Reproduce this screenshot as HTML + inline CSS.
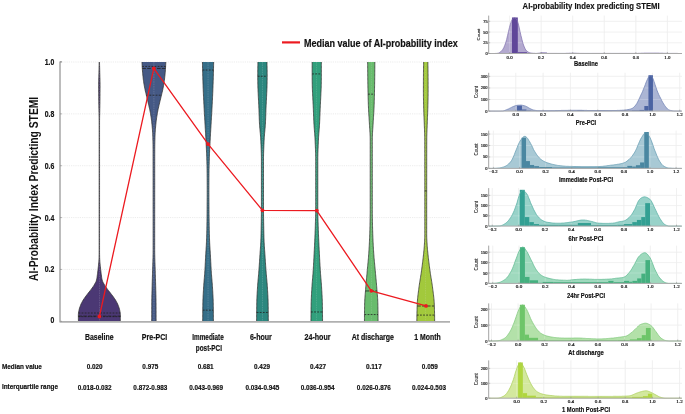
<!DOCTYPE html>
<html><head><meta charset="utf-8"><style>
html,body{margin:0;padding:0;background:#fff;}
svg{display:block;will-change:transform;}
</style></head><body>
<svg width="685" height="414" viewBox="0 0 685 414">
<rect width="685" height="414" fill="#fff"/>
<line x1="60" y1="269.44" x2="450" y2="269.44" stroke="#e4e4e4" stroke-width="0.7" stroke-dasharray="1.2,1.0"/>
<line x1="60" y1="217.58" x2="450" y2="217.58" stroke="#e4e4e4" stroke-width="0.7" stroke-dasharray="1.2,1.0"/>
<line x1="60" y1="165.72" x2="450" y2="165.72" stroke="#e4e4e4" stroke-width="0.7" stroke-dasharray="1.2,1.0"/>
<line x1="60" y1="113.86" x2="450" y2="113.86" stroke="#e4e4e4" stroke-width="0.7" stroke-dasharray="1.2,1.0"/>
<line x1="60" y1="62.00" x2="450" y2="62.00" stroke="#e4e4e4" stroke-width="0.7" stroke-dasharray="1.2,1.0"/>
<defs><clipPath id="pc"><rect x="60" y="62" width="390" height="259.5"/></clipPath></defs>
<g clip-path="url(#pc)">
<path d="M99.50,59.00 L99.50,60.33 L99.50,61.66 L99.53,62.99 L99.56,64.33 L99.59,65.66 L99.63,66.99 L99.66,68.32 L99.69,69.65 L99.73,70.98 L99.76,72.32 L99.79,73.65 L99.83,74.98 L99.87,76.31 L99.91,77.64 L99.95,78.97 L99.99,80.31 L100.02,81.64 L100.04,82.97 L100.05,84.30 L100.05,85.63 L100.05,86.96 L100.04,88.30 L100.04,89.63 L100.03,90.96 L100.02,92.29 L100.01,93.62 L100.00,94.95 L99.98,96.29 L99.97,97.62 L99.96,98.95 L99.95,100.28 L99.93,101.61 L99.91,102.94 L99.89,104.28 L99.86,105.61 L99.84,106.94 L99.81,108.27 L99.78,109.60 L99.75,110.93 L99.72,112.27 L99.69,113.60 L99.66,114.93 L99.63,116.26 L99.61,117.59 L99.59,118.92 L99.57,120.26 L99.56,121.59 L99.55,122.92 L99.55,124.25 L99.55,125.58 L99.55,126.91 L99.55,128.25 L99.55,129.58 L99.55,130.91 L99.55,132.24 L99.55,133.57 L99.55,134.90 L99.55,136.24 L99.55,137.57 L99.55,138.90 L99.55,140.23 L99.55,141.56 L99.55,142.89 L99.55,144.23 L99.55,145.56 L99.55,146.89 L99.55,148.22 L99.55,149.55 L99.55,150.88 L99.55,152.22 L99.55,153.55 L99.55,154.88 L99.55,156.21 L99.55,157.54 L99.55,158.87 L99.55,160.21 L99.55,161.54 L99.55,162.87 L99.55,164.20 L99.55,165.53 L99.55,166.86 L99.55,168.20 L99.55,169.53 L99.55,170.86 L99.55,172.19 L99.55,173.52 L99.55,174.85 L99.55,176.19 L99.55,177.52 L99.55,178.85 L99.55,180.18 L99.55,181.51 L99.55,182.84 L99.55,184.18 L99.55,185.51 L99.55,186.84 L99.55,188.17 L99.55,189.50 L99.55,190.83 L99.55,192.17 L99.55,193.50 L99.55,194.83 L99.55,196.16 L99.55,197.49 L99.55,198.82 L99.55,200.16 L99.55,201.49 L99.55,202.82 L99.55,204.15 L99.55,205.48 L99.55,206.81 L99.55,208.15 L99.55,209.48 L99.55,210.81 L99.55,212.14 L99.55,213.47 L99.55,214.80 L99.55,216.14 L99.55,217.47 L99.55,218.80 L99.55,220.13 L99.55,221.46 L99.55,222.79 L99.55,224.13 L99.55,225.46 L99.55,226.79 L99.55,228.12 L99.55,229.45 L99.55,230.78 L99.55,232.12 L99.55,233.45 L99.55,234.78 L99.55,236.11 L99.55,237.44 L99.55,238.77 L99.55,240.11 L99.55,241.44 L99.55,242.77 L99.55,244.10 L99.55,245.43 L99.55,246.76 L99.55,248.10 L99.55,249.43 L99.55,250.76 L99.56,252.09 L99.57,253.42 L99.59,254.75 L99.61,256.09 L99.64,257.42 L99.68,258.75 L99.75,260.08 L99.85,261.41 L99.96,262.74 L100.08,264.08 L100.22,265.41 L100.36,266.74 L100.51,268.07 L100.66,269.40 L100.81,270.73 L100.97,272.07 L101.14,273.40 L101.31,274.73 L101.49,276.06 L101.67,277.39 L101.88,278.72 L102.16,280.06 L102.62,281.39 L103.26,282.72 L104.00,284.05 L104.77,285.38 L105.64,286.71 L106.59,288.05 L107.59,289.38 L108.58,290.71 L109.63,292.04 L110.70,293.37 L111.73,294.70 L112.72,296.04 L113.70,297.37 L114.63,298.70 L115.49,300.03 L116.26,301.36 L116.99,302.69 L117.64,304.03 L118.19,305.36 L118.69,306.69 L119.14,308.02 L119.52,309.35 L119.80,310.68 L120.04,312.02 L120.24,313.35 L120.35,314.68 L120.35,316.01 L120.34,317.34 L120.33,318.67 L120.30,320.01 L120.25,321.34 L120.25,322.67 L120.25,324.00 L78.45,324.00 L78.45,322.67 L78.45,321.34 L78.40,320.01 L78.37,318.67 L78.36,317.34 L78.35,316.01 L78.35,314.68 L78.46,313.35 L78.66,312.02 L78.90,310.68 L79.18,309.35 L79.56,308.02 L80.01,306.69 L80.51,305.36 L81.06,304.03 L81.71,302.69 L82.44,301.36 L83.21,300.03 L84.07,298.70 L85.00,297.37 L85.98,296.04 L86.97,294.70 L88.00,293.37 L89.07,292.04 L90.12,290.71 L91.11,289.38 L92.11,288.05 L93.06,286.71 L93.93,285.38 L94.70,284.05 L95.44,282.72 L96.08,281.39 L96.54,280.06 L96.82,278.72 L97.03,277.39 L97.21,276.06 L97.39,274.73 L97.56,273.40 L97.73,272.07 L97.89,270.73 L98.04,269.40 L98.19,268.07 L98.34,266.74 L98.48,265.41 L98.62,264.08 L98.74,262.74 L98.85,261.41 L98.95,260.08 L99.02,258.75 L99.06,257.42 L99.09,256.09 L99.11,254.75 L99.13,253.42 L99.14,252.09 L99.15,250.76 L99.15,249.43 L99.15,248.10 L99.15,246.76 L99.15,245.43 L99.15,244.10 L99.15,242.77 L99.15,241.44 L99.15,240.11 L99.15,238.77 L99.15,237.44 L99.15,236.11 L99.15,234.78 L99.15,233.45 L99.15,232.12 L99.15,230.78 L99.15,229.45 L99.15,228.12 L99.15,226.79 L99.15,225.46 L99.15,224.13 L99.15,222.79 L99.15,221.46 L99.15,220.13 L99.15,218.80 L99.15,217.47 L99.15,216.14 L99.15,214.80 L99.15,213.47 L99.15,212.14 L99.15,210.81 L99.15,209.48 L99.15,208.15 L99.15,206.81 L99.15,205.48 L99.15,204.15 L99.15,202.82 L99.15,201.49 L99.15,200.16 L99.15,198.82 L99.15,197.49 L99.15,196.16 L99.15,194.83 L99.15,193.50 L99.15,192.17 L99.15,190.83 L99.15,189.50 L99.15,188.17 L99.15,186.84 L99.15,185.51 L99.15,184.18 L99.15,182.84 L99.15,181.51 L99.15,180.18 L99.15,178.85 L99.15,177.52 L99.15,176.19 L99.15,174.85 L99.15,173.52 L99.15,172.19 L99.15,170.86 L99.15,169.53 L99.15,168.20 L99.15,166.86 L99.15,165.53 L99.15,164.20 L99.15,162.87 L99.15,161.54 L99.15,160.21 L99.15,158.87 L99.15,157.54 L99.15,156.21 L99.15,154.88 L99.15,153.55 L99.15,152.22 L99.15,150.88 L99.15,149.55 L99.15,148.22 L99.15,146.89 L99.15,145.56 L99.15,144.23 L99.15,142.89 L99.15,141.56 L99.15,140.23 L99.15,138.90 L99.15,137.57 L99.15,136.24 L99.15,134.90 L99.15,133.57 L99.15,132.24 L99.15,130.91 L99.15,129.58 L99.15,128.25 L99.15,126.91 L99.15,125.58 L99.15,124.25 L99.15,122.92 L99.14,121.59 L99.13,120.26 L99.11,118.92 L99.09,117.59 L99.07,116.26 L99.04,114.93 L99.01,113.60 L98.98,112.27 L98.95,110.93 L98.92,109.60 L98.89,108.27 L98.86,106.94 L98.84,105.61 L98.81,104.28 L98.79,102.94 L98.77,101.61 L98.75,100.28 L98.74,98.95 L98.73,97.62 L98.72,96.29 L98.70,94.95 L98.69,93.62 L98.68,92.29 L98.67,90.96 L98.66,89.63 L98.66,88.30 L98.65,86.96 L98.65,85.63 L98.65,84.30 L98.66,82.97 L98.68,81.64 L98.71,80.31 L98.75,78.97 L98.79,77.64 L98.83,76.31 L98.87,74.98 L98.91,73.65 L98.94,72.32 L98.97,70.98 L99.01,69.65 L99.04,68.32 L99.07,66.99 L99.11,65.66 L99.14,64.33 L99.17,62.99 L99.20,61.66 L99.20,60.33 L99.20,59.00 Z" fill="#4b3874" stroke="#333" stroke-width="0.75" stroke-linejoin="round"/>
<line x1="99.35" y1="62" x2="99.35" y2="321.3" stroke="#e8e8f0" stroke-width="0.5" stroke-dasharray="1.6,0.8" opacity="0.35"/>
<line x1="78.35" y1="316.63" x2="120.35" y2="316.63" stroke="#222" stroke-width="0.8" stroke-dasharray="1.8,1.3"/>
<line x1="78.35" y1="316.11" x2="120.35" y2="316.11" stroke="#222" stroke-width="0.8" stroke-dasharray="3.6,1.3"/>
<line x1="78.50" y1="313.00" x2="120.20" y2="313.00" stroke="#222" stroke-width="0.8" stroke-dasharray="1.8,1.3"/>
<path d="M165.80,59.00 L165.80,60.33 L165.80,61.66 L165.77,62.99 L165.72,64.33 L165.65,65.66 L165.58,66.99 L165.51,68.32 L165.42,69.65 L165.33,70.98 L165.23,72.32 L165.11,73.65 L164.98,74.98 L164.84,76.31 L164.70,77.64 L164.54,78.97 L164.37,80.31 L164.19,81.64 L163.98,82.97 L163.77,84.30 L163.54,85.63 L163.29,86.96 L163.04,88.30 L162.77,89.63 L162.48,90.96 L162.16,92.29 L161.84,93.62 L161.52,94.95 L161.20,96.29 L160.88,97.62 L160.56,98.95 L160.23,100.28 L159.90,101.61 L159.58,102.94 L159.27,104.28 L158.96,105.61 L158.66,106.94 L158.36,108.27 L158.06,109.60 L157.79,110.93 L157.53,112.27 L157.30,113.60 L157.08,114.93 L156.87,116.26 L156.66,117.59 L156.47,118.92 L156.30,120.26 L156.14,121.59 L155.99,122.92 L155.86,124.25 L155.73,125.58 L155.60,126.91 L155.48,128.25 L155.37,129.58 L155.27,130.91 L155.18,132.24 L155.11,133.57 L155.06,134.90 L155.01,136.24 L154.97,137.57 L154.93,138.90 L154.90,140.23 L154.86,141.56 L154.83,142.89 L154.81,144.23 L154.79,145.56 L154.77,146.89 L154.76,148.22 L154.75,149.55 L154.75,150.88 L154.75,152.22 L154.75,153.55 L154.74,154.88 L154.74,156.21 L154.74,157.54 L154.74,158.87 L154.74,160.21 L154.74,161.54 L154.74,162.87 L154.73,164.20 L154.73,165.53 L154.73,166.86 L154.73,168.20 L154.73,169.53 L154.73,170.86 L154.73,172.19 L154.73,173.52 L154.72,174.85 L154.72,176.19 L154.72,177.52 L154.72,178.85 L154.72,180.18 L154.72,181.51 L154.72,182.84 L154.72,184.18 L154.72,185.51 L154.72,186.84 L154.72,188.17 L154.71,189.50 L154.71,190.83 L154.71,192.17 L154.71,193.50 L154.71,194.83 L154.71,196.16 L154.71,197.49 L154.71,198.82 L154.71,200.16 L154.71,201.49 L154.71,202.82 L154.71,204.15 L154.71,205.48 L154.71,206.81 L154.71,208.15 L154.71,209.48 L154.71,210.81 L154.70,212.14 L154.70,213.47 L154.70,214.80 L154.70,216.14 L154.70,217.47 L154.70,218.80 L154.70,220.13 L154.70,221.46 L154.70,222.79 L154.70,224.13 L154.70,225.46 L154.70,226.79 L154.70,228.12 L154.70,229.45 L154.70,230.78 L154.70,232.12 L154.70,233.45 L154.70,234.78 L154.70,236.11 L154.70,237.44 L154.70,238.77 L154.70,240.11 L154.70,241.44 L154.70,242.77 L154.70,244.10 L154.70,245.43 L154.70,246.76 L154.70,248.10 L154.70,249.43 L154.70,250.76 L154.71,252.09 L154.72,253.42 L154.75,254.75 L154.77,256.09 L154.80,257.42 L154.84,258.75 L154.88,260.08 L154.92,261.41 L154.96,262.74 L155.01,264.08 L155.05,265.41 L155.09,266.74 L155.14,268.07 L155.18,269.40 L155.22,270.73 L155.25,272.07 L155.29,273.40 L155.33,274.73 L155.37,276.06 L155.41,277.39 L155.45,278.72 L155.50,280.06 L155.54,281.39 L155.58,282.72 L155.62,284.05 L155.65,285.38 L155.69,286.71 L155.72,288.05 L155.76,289.38 L155.79,290.71 L155.83,292.04 L155.86,293.37 L155.90,294.70 L155.93,296.04 L155.96,297.37 L155.99,298.70 L156.01,300.03 L156.03,301.36 L156.04,302.69 L156.05,304.03 L156.06,305.36 L156.06,306.69 L156.07,308.02 L156.07,309.35 L156.08,310.68 L156.08,312.02 L156.09,313.35 L156.09,314.68 L156.09,316.01 L156.10,317.34 L156.10,318.67 L156.10,320.01 L156.10,321.34 L156.10,322.67 L156.10,324.00 L151.70,324.00 L151.70,322.67 L151.70,321.34 L151.70,320.01 L151.70,318.67 L151.70,317.34 L151.71,316.01 L151.71,314.68 L151.71,313.35 L151.72,312.02 L151.72,310.68 L151.73,309.35 L151.73,308.02 L151.74,306.69 L151.74,305.36 L151.75,304.03 L151.76,302.69 L151.77,301.36 L151.79,300.03 L151.81,298.70 L151.84,297.37 L151.87,296.04 L151.90,294.70 L151.94,293.37 L151.97,292.04 L152.01,290.71 L152.04,289.38 L152.08,288.05 L152.11,286.71 L152.15,285.38 L152.18,284.05 L152.22,282.72 L152.26,281.39 L152.30,280.06 L152.35,278.72 L152.39,277.39 L152.43,276.06 L152.47,274.73 L152.51,273.40 L152.55,272.07 L152.58,270.73 L152.62,269.40 L152.66,268.07 L152.71,266.74 L152.75,265.41 L152.79,264.08 L152.84,262.74 L152.88,261.41 L152.92,260.08 L152.96,258.75 L153.00,257.42 L153.03,256.09 L153.05,254.75 L153.08,253.42 L153.09,252.09 L153.10,250.76 L153.10,249.43 L153.10,248.10 L153.10,246.76 L153.10,245.43 L153.10,244.10 L153.10,242.77 L153.10,241.44 L153.10,240.11 L153.10,238.77 L153.10,237.44 L153.10,236.11 L153.10,234.78 L153.10,233.45 L153.10,232.12 L153.10,230.78 L153.10,229.45 L153.10,228.12 L153.10,226.79 L153.10,225.46 L153.10,224.13 L153.10,222.79 L153.10,221.46 L153.10,220.13 L153.10,218.80 L153.10,217.47 L153.10,216.14 L153.10,214.80 L153.10,213.47 L153.10,212.14 L153.09,210.81 L153.09,209.48 L153.09,208.15 L153.09,206.81 L153.09,205.48 L153.09,204.15 L153.09,202.82 L153.09,201.49 L153.09,200.16 L153.09,198.82 L153.09,197.49 L153.09,196.16 L153.09,194.83 L153.09,193.50 L153.09,192.17 L153.09,190.83 L153.09,189.50 L153.08,188.17 L153.08,186.84 L153.08,185.51 L153.08,184.18 L153.08,182.84 L153.08,181.51 L153.08,180.18 L153.08,178.85 L153.08,177.52 L153.08,176.19 L153.08,174.85 L153.07,173.52 L153.07,172.19 L153.07,170.86 L153.07,169.53 L153.07,168.20 L153.07,166.86 L153.07,165.53 L153.07,164.20 L153.06,162.87 L153.06,161.54 L153.06,160.21 L153.06,158.87 L153.06,157.54 L153.06,156.21 L153.06,154.88 L153.05,153.55 L153.05,152.22 L153.05,150.88 L153.05,149.55 L153.04,148.22 L153.03,146.89 L153.01,145.56 L152.99,144.23 L152.97,142.89 L152.94,141.56 L152.90,140.23 L152.87,138.90 L152.83,137.57 L152.79,136.24 L152.74,134.90 L152.69,133.57 L152.62,132.24 L152.53,130.91 L152.43,129.58 L152.32,128.25 L152.20,126.91 L152.07,125.58 L151.94,124.25 L151.81,122.92 L151.66,121.59 L151.50,120.26 L151.33,118.92 L151.14,117.59 L150.93,116.26 L150.72,114.93 L150.50,113.60 L150.27,112.27 L150.01,110.93 L149.74,109.60 L149.44,108.27 L149.14,106.94 L148.84,105.61 L148.53,104.28 L148.22,102.94 L147.90,101.61 L147.57,100.28 L147.24,98.95 L146.92,97.62 L146.60,96.29 L146.28,94.95 L145.96,93.62 L145.64,92.29 L145.32,90.96 L145.03,89.63 L144.76,88.30 L144.51,86.96 L144.26,85.63 L144.03,84.30 L143.82,82.97 L143.61,81.64 L143.43,80.31 L143.26,78.97 L143.10,77.64 L142.96,76.31 L142.82,74.98 L142.69,73.65 L142.57,72.32 L142.47,70.98 L142.38,69.65 L142.29,68.32 L142.22,66.99 L142.15,65.66 L142.08,64.33 L142.03,62.99 L142.00,61.66 L142.00,60.33 L142.00,59.00 Z" fill="#455985" stroke="#333" stroke-width="0.75" stroke-linejoin="round"/>
<line x1="153.90" y1="62" x2="153.90" y2="321.3" stroke="#e8e8f0" stroke-width="0.5" stroke-dasharray="1.6,0.8" opacity="0.35"/>
<line x1="146.34" y1="95.19" x2="161.46" y2="95.19" stroke="#222" stroke-width="0.8" stroke-dasharray="1.8,1.3"/>
<line x1="142.30" y1="68.48" x2="165.50" y2="68.48" stroke="#222" stroke-width="0.8" stroke-dasharray="3.6,1.3"/>
<line x1="142.18" y1="66.41" x2="165.62" y2="66.41" stroke="#222" stroke-width="0.8" stroke-dasharray="1.8,1.3"/>
<path d="M213.65,59.00 L213.65,60.33 L213.65,61.66 L213.63,62.99 L213.61,64.33 L213.59,65.66 L213.56,66.99 L213.53,68.32 L213.50,69.65 L213.47,70.98 L213.44,72.32 L213.40,73.65 L213.37,74.98 L213.33,76.31 L213.30,77.64 L213.25,78.97 L213.21,80.31 L213.17,81.64 L213.12,82.97 L213.07,84.30 L213.03,85.63 L212.98,86.96 L212.93,88.30 L212.88,89.63 L212.82,90.96 L212.77,92.29 L212.71,93.62 L212.65,94.95 L212.59,96.29 L212.53,97.62 L212.47,98.95 L212.40,100.28 L212.34,101.61 L212.27,102.94 L212.20,104.28 L212.13,105.61 L212.06,106.94 L211.99,108.27 L211.92,109.60 L211.85,110.93 L211.77,112.27 L211.70,113.60 L211.62,114.93 L211.54,116.26 L211.46,117.59 L211.38,118.92 L211.30,120.26 L211.23,121.59 L211.15,122.92 L211.07,124.25 L210.99,125.58 L210.92,126.91 L210.84,128.25 L210.76,129.58 L210.68,130.91 L210.60,132.24 L210.53,133.57 L210.45,134.90 L210.38,136.24 L210.30,137.57 L210.23,138.90 L210.16,140.23 L210.09,141.56 L210.02,142.89 L209.95,144.23 L209.88,145.56 L209.81,146.89 L209.74,148.22 L209.68,149.55 L209.61,150.88 L209.55,152.22 L209.50,153.55 L209.44,154.88 L209.39,156.21 L209.35,157.54 L209.31,158.87 L209.27,160.21 L209.22,161.54 L209.19,162.87 L209.15,164.20 L209.11,165.53 L209.08,166.86 L209.06,168.20 L209.03,169.53 L209.01,170.86 L209.00,172.19 L208.99,173.52 L208.97,174.85 L208.96,176.19 L208.95,177.52 L208.94,178.85 L208.93,180.18 L208.93,181.51 L208.92,182.84 L208.91,184.18 L208.91,185.51 L208.90,186.84 L208.90,188.17 L208.90,189.50 L208.90,190.83 L208.90,192.17 L208.90,193.50 L208.91,194.83 L208.91,196.16 L208.92,197.49 L208.93,198.82 L208.93,200.16 L208.94,201.49 L208.95,202.82 L208.96,204.15 L208.97,205.48 L208.98,206.81 L208.99,208.15 L209.00,209.48 L209.01,210.81 L209.02,212.14 L209.03,213.47 L209.04,214.80 L209.05,216.14 L209.07,217.47 L209.08,218.80 L209.10,220.13 L209.12,221.46 L209.14,222.79 L209.16,224.13 L209.18,225.46 L209.20,226.79 L209.22,228.12 L209.25,229.45 L209.27,230.78 L209.31,232.12 L209.34,233.45 L209.38,234.78 L209.42,236.11 L209.47,237.44 L209.51,238.77 L209.56,240.11 L209.61,241.44 L209.67,242.77 L209.73,244.10 L209.80,245.43 L209.88,246.76 L209.96,248.10 L210.05,249.43 L210.14,250.76 L210.22,252.09 L210.31,253.42 L210.38,254.75 L210.46,256.09 L210.53,257.42 L210.60,258.75 L210.66,260.08 L210.73,261.41 L210.79,262.74 L210.86,264.08 L210.93,265.41 L211.00,266.74 L211.07,268.07 L211.14,269.40 L211.22,270.73 L211.31,272.07 L211.40,273.40 L211.50,274.73 L211.61,276.06 L211.72,277.39 L211.83,278.72 L211.94,280.06 L212.06,281.39 L212.16,282.72 L212.27,284.05 L212.36,285.38 L212.45,286.71 L212.53,288.05 L212.61,289.38 L212.69,290.71 L212.77,292.04 L212.84,293.37 L212.92,294.70 L212.98,296.04 L213.05,297.37 L213.11,298.70 L213.16,300.03 L213.20,301.36 L213.23,302.69 L213.25,304.03 L213.27,305.36 L213.29,306.69 L213.31,308.02 L213.32,309.35 L213.34,310.68 L213.35,312.02 L213.36,313.35 L213.37,314.68 L213.38,316.01 L213.39,317.34 L213.40,318.67 L213.40,320.01 L213.40,321.34 L213.40,322.67 L213.40,324.00 L202.70,324.00 L202.70,322.67 L202.70,321.34 L202.70,320.01 L202.70,318.67 L202.71,317.34 L202.72,316.01 L202.73,314.68 L202.74,313.35 L202.75,312.02 L202.76,310.68 L202.78,309.35 L202.79,308.02 L202.81,306.69 L202.83,305.36 L202.85,304.03 L202.87,302.69 L202.90,301.36 L202.94,300.03 L202.99,298.70 L203.05,297.37 L203.12,296.04 L203.18,294.70 L203.26,293.37 L203.33,292.04 L203.41,290.71 L203.49,289.38 L203.57,288.05 L203.65,286.71 L203.74,285.38 L203.83,284.05 L203.94,282.72 L204.04,281.39 L204.16,280.06 L204.27,278.72 L204.38,277.39 L204.49,276.06 L204.60,274.73 L204.70,273.40 L204.79,272.07 L204.88,270.73 L204.96,269.40 L205.03,268.07 L205.10,266.74 L205.17,265.41 L205.24,264.08 L205.31,262.74 L205.37,261.41 L205.44,260.08 L205.50,258.75 L205.57,257.42 L205.64,256.09 L205.72,254.75 L205.79,253.42 L205.88,252.09 L205.96,250.76 L206.05,249.43 L206.14,248.10 L206.22,246.76 L206.30,245.43 L206.37,244.10 L206.43,242.77 L206.49,241.44 L206.54,240.11 L206.59,238.77 L206.63,237.44 L206.68,236.11 L206.72,234.78 L206.76,233.45 L206.79,232.12 L206.83,230.78 L206.85,229.45 L206.88,228.12 L206.90,226.79 L206.92,225.46 L206.94,224.13 L206.96,222.79 L206.98,221.46 L207.00,220.13 L207.02,218.80 L207.03,217.47 L207.05,216.14 L207.06,214.80 L207.07,213.47 L207.08,212.14 L207.09,210.81 L207.10,209.48 L207.11,208.15 L207.12,206.81 L207.13,205.48 L207.14,204.15 L207.15,202.82 L207.16,201.49 L207.17,200.16 L207.17,198.82 L207.18,197.49 L207.19,196.16 L207.19,194.83 L207.20,193.50 L207.20,192.17 L207.20,190.83 L207.20,189.50 L207.20,188.17 L207.20,186.84 L207.19,185.51 L207.19,184.18 L207.18,182.84 L207.17,181.51 L207.17,180.18 L207.16,178.85 L207.15,177.52 L207.14,176.19 L207.13,174.85 L207.11,173.52 L207.10,172.19 L207.09,170.86 L207.07,169.53 L207.04,168.20 L207.02,166.86 L206.99,165.53 L206.95,164.20 L206.91,162.87 L206.88,161.54 L206.83,160.21 L206.79,158.87 L206.75,157.54 L206.71,156.21 L206.66,154.88 L206.60,153.55 L206.55,152.22 L206.49,150.88 L206.42,149.55 L206.36,148.22 L206.29,146.89 L206.22,145.56 L206.15,144.23 L206.08,142.89 L206.01,141.56 L205.94,140.23 L205.87,138.90 L205.80,137.57 L205.72,136.24 L205.65,134.90 L205.57,133.57 L205.50,132.24 L205.42,130.91 L205.34,129.58 L205.26,128.25 L205.18,126.91 L205.11,125.58 L205.03,124.25 L204.95,122.92 L204.87,121.59 L204.80,120.26 L204.72,118.92 L204.64,117.59 L204.56,116.26 L204.48,114.93 L204.40,113.60 L204.33,112.27 L204.25,110.93 L204.18,109.60 L204.11,108.27 L204.04,106.94 L203.97,105.61 L203.90,104.28 L203.83,102.94 L203.76,101.61 L203.70,100.28 L203.63,98.95 L203.57,97.62 L203.51,96.29 L203.45,94.95 L203.39,93.62 L203.33,92.29 L203.28,90.96 L203.22,89.63 L203.17,88.30 L203.12,86.96 L203.07,85.63 L203.03,84.30 L202.98,82.97 L202.93,81.64 L202.89,80.31 L202.85,78.97 L202.80,77.64 L202.77,76.31 L202.73,74.98 L202.70,73.65 L202.66,72.32 L202.63,70.98 L202.60,69.65 L202.57,68.32 L202.54,66.99 L202.51,65.66 L202.49,64.33 L202.47,62.99 L202.45,61.66 L202.45,60.33 L202.45,59.00 Z" fill="#356e88" stroke="#333" stroke-width="0.75" stroke-linejoin="round"/>
<line x1="208.05" y1="62" x2="208.05" y2="321.3" stroke="#e8e8f0" stroke-width="0.5" stroke-dasharray="1.6,0.8" opacity="0.35"/>
<line x1="202.77" y1="310.15" x2="213.33" y2="310.15" stroke="#222" stroke-width="0.8" stroke-dasharray="1.8,1.3"/>
<line x1="206.17" y1="144.72" x2="209.93" y2="144.72" stroke="#222" stroke-width="0.8" stroke-dasharray="3.6,1.3"/>
<line x1="202.61" y1="70.04" x2="213.49" y2="70.04" stroke="#222" stroke-width="0.8" stroke-dasharray="1.8,1.3"/>
<path d="M266.95,59.00 L266.95,60.33 L266.95,61.66 L266.98,62.99 L267.01,64.33 L267.04,65.66 L267.07,66.99 L267.09,68.32 L267.11,69.65 L267.13,70.98 L267.14,72.32 L267.15,73.65 L267.15,74.98 L267.15,76.31 L267.14,77.64 L267.13,78.97 L267.12,80.31 L267.10,81.64 L267.08,82.97 L267.06,84.30 L267.04,85.63 L267.00,86.96 L266.96,88.30 L266.90,89.63 L266.84,90.96 L266.78,92.29 L266.71,93.62 L266.65,94.95 L266.59,96.29 L266.53,97.62 L266.46,98.95 L266.39,100.28 L266.32,101.61 L266.25,102.94 L266.19,104.28 L266.12,105.61 L266.06,106.94 L266.01,108.27 L265.95,109.60 L265.90,110.93 L265.86,112.27 L265.81,113.60 L265.77,114.93 L265.72,116.26 L265.68,117.59 L265.63,118.92 L265.57,120.26 L265.51,121.59 L265.45,122.92 L265.37,124.25 L265.28,125.58 L265.18,126.91 L265.07,128.25 L264.95,129.58 L264.83,130.91 L264.70,132.24 L264.58,133.57 L264.47,134.90 L264.36,136.24 L264.27,137.57 L264.18,138.90 L264.12,140.23 L264.06,141.56 L264.00,142.89 L263.94,144.23 L263.88,145.56 L263.82,146.89 L263.77,148.22 L263.72,149.55 L263.67,150.88 L263.63,152.22 L263.59,153.55 L263.56,154.88 L263.53,156.21 L263.51,157.54 L263.50,158.87 L263.50,160.21 L263.50,161.54 L263.50,162.87 L263.50,164.20 L263.50,165.53 L263.50,166.86 L263.50,168.20 L263.50,169.53 L263.50,170.86 L263.50,172.19 L263.50,173.52 L263.50,174.85 L263.50,176.19 L263.50,177.52 L263.50,178.85 L263.50,180.18 L263.50,181.51 L263.50,182.84 L263.50,184.18 L263.50,185.51 L263.50,186.84 L263.50,188.17 L263.50,189.50 L263.50,190.83 L263.50,192.17 L263.50,193.50 L263.50,194.83 L263.50,196.16 L263.50,197.49 L263.50,198.82 L263.50,200.16 L263.50,201.49 L263.50,202.82 L263.50,204.15 L263.50,205.48 L263.50,206.81 L263.50,208.15 L263.50,209.48 L263.50,210.81 L263.51,212.14 L263.52,213.47 L263.53,214.80 L263.55,216.14 L263.56,217.47 L263.58,218.80 L263.61,220.13 L263.63,221.46 L263.65,222.79 L263.68,224.13 L263.70,225.46 L263.72,226.79 L263.74,228.12 L263.77,229.45 L263.79,230.78 L263.82,232.12 L263.85,233.45 L263.88,234.78 L263.92,236.11 L263.95,237.44 L263.99,238.77 L264.04,240.11 L264.09,241.44 L264.15,242.77 L264.22,244.10 L264.30,245.43 L264.39,246.76 L264.48,248.10 L264.57,249.43 L264.67,250.76 L264.76,252.09 L264.86,253.42 L264.94,254.75 L265.03,256.09 L265.12,257.42 L265.20,258.75 L265.29,260.08 L265.37,261.41 L265.46,262.74 L265.55,264.08 L265.64,265.41 L265.73,266.74 L265.82,268.07 L265.92,269.40 L266.02,270.73 L266.12,272.07 L266.22,273.40 L266.34,274.73 L266.46,276.06 L266.58,277.39 L266.70,278.72 L266.82,280.06 L266.94,281.39 L267.05,282.72 L267.16,284.05 L267.26,285.38 L267.35,286.71 L267.43,288.05 L267.51,289.38 L267.59,290.71 L267.67,292.04 L267.75,293.37 L267.82,294.70 L267.89,296.04 L267.95,297.37 L268.01,298.70 L268.06,300.03 L268.10,301.36 L268.13,302.69 L268.15,304.03 L268.17,305.36 L268.19,306.69 L268.21,308.02 L268.22,309.35 L268.24,310.68 L268.25,312.02 L268.26,313.35 L268.27,314.68 L268.28,316.01 L268.29,317.34 L268.30,318.67 L268.30,320.01 L268.30,321.34 L268.30,322.67 L268.30,324.00 L256.60,324.00 L256.60,322.67 L256.60,321.34 L256.60,320.01 L256.60,318.67 L256.61,317.34 L256.62,316.01 L256.63,314.68 L256.64,313.35 L256.65,312.02 L256.66,310.68 L256.68,309.35 L256.69,308.02 L256.71,306.69 L256.73,305.36 L256.75,304.03 L256.77,302.69 L256.80,301.36 L256.84,300.03 L256.89,298.70 L256.95,297.37 L257.01,296.04 L257.08,294.70 L257.15,293.37 L257.23,292.04 L257.31,290.71 L257.39,289.38 L257.47,288.05 L257.55,286.71 L257.64,285.38 L257.74,284.05 L257.85,282.72 L257.96,281.39 L258.08,280.06 L258.20,278.72 L258.32,277.39 L258.44,276.06 L258.56,274.73 L258.68,273.40 L258.78,272.07 L258.88,270.73 L258.98,269.40 L259.08,268.07 L259.17,266.74 L259.26,265.41 L259.35,264.08 L259.44,262.74 L259.53,261.41 L259.61,260.08 L259.70,258.75 L259.78,257.42 L259.87,256.09 L259.96,254.75 L260.04,253.42 L260.14,252.09 L260.23,250.76 L260.33,249.43 L260.42,248.10 L260.51,246.76 L260.60,245.43 L260.68,244.10 L260.75,242.77 L260.81,241.44 L260.86,240.11 L260.91,238.77 L260.95,237.44 L260.98,236.11 L261.02,234.78 L261.05,233.45 L261.08,232.12 L261.11,230.78 L261.13,229.45 L261.16,228.12 L261.18,226.79 L261.20,225.46 L261.22,224.13 L261.25,222.79 L261.27,221.46 L261.29,220.13 L261.32,218.80 L261.34,217.47 L261.35,216.14 L261.37,214.80 L261.38,213.47 L261.39,212.14 L261.40,210.81 L261.40,209.48 L261.40,208.15 L261.40,206.81 L261.40,205.48 L261.40,204.15 L261.40,202.82 L261.40,201.49 L261.40,200.16 L261.40,198.82 L261.40,197.49 L261.40,196.16 L261.40,194.83 L261.40,193.50 L261.40,192.17 L261.40,190.83 L261.40,189.50 L261.40,188.17 L261.40,186.84 L261.40,185.51 L261.40,184.18 L261.40,182.84 L261.40,181.51 L261.40,180.18 L261.40,178.85 L261.40,177.52 L261.40,176.19 L261.40,174.85 L261.40,173.52 L261.40,172.19 L261.40,170.86 L261.40,169.53 L261.40,168.20 L261.40,166.86 L261.40,165.53 L261.40,164.20 L261.40,162.87 L261.40,161.54 L261.40,160.21 L261.40,158.87 L261.39,157.54 L261.37,156.21 L261.34,154.88 L261.31,153.55 L261.27,152.22 L261.23,150.88 L261.18,149.55 L261.13,148.22 L261.08,146.89 L261.02,145.56 L260.96,144.23 L260.90,142.89 L260.84,141.56 L260.78,140.23 L260.72,138.90 L260.63,137.57 L260.54,136.24 L260.43,134.90 L260.32,133.57 L260.20,132.24 L260.07,130.91 L259.95,129.58 L259.83,128.25 L259.72,126.91 L259.62,125.58 L259.53,124.25 L259.45,122.92 L259.39,121.59 L259.33,120.26 L259.27,118.92 L259.22,117.59 L259.18,116.26 L259.13,114.93 L259.09,113.60 L259.04,112.27 L259.00,110.93 L258.95,109.60 L258.89,108.27 L258.84,106.94 L258.78,105.61 L258.71,104.28 L258.65,102.94 L258.58,101.61 L258.51,100.28 L258.44,98.95 L258.37,97.62 L258.31,96.29 L258.25,94.95 L258.19,93.62 L258.12,92.29 L258.06,90.96 L258.00,89.63 L257.94,88.30 L257.90,86.96 L257.86,85.63 L257.84,84.30 L257.82,82.97 L257.80,81.64 L257.78,80.31 L257.77,78.97 L257.76,77.64 L257.75,76.31 L257.75,74.98 L257.75,73.65 L257.76,72.32 L257.77,70.98 L257.79,69.65 L257.81,68.32 L257.83,66.99 L257.86,65.66 L257.89,64.33 L257.92,62.99 L257.95,61.66 L257.95,60.33 L257.95,59.00 Z" fill="#2c877f" stroke="#333" stroke-width="0.75" stroke-linejoin="round"/>
<line x1="262.45" y1="62" x2="262.45" y2="321.3" stroke="#e8e8f0" stroke-width="0.5" stroke-dasharray="1.6,0.8" opacity="0.35"/>
<line x1="256.64" y1="312.48" x2="268.26" y2="312.48" stroke="#222" stroke-width="0.8" stroke-dasharray="1.8,1.3"/>
<line x1="261.40" y1="210.06" x2="263.50" y2="210.06" stroke="#222" stroke-width="0.8" stroke-dasharray="3.6,1.3"/>
<line x1="257.75" y1="76.26" x2="267.15" y2="76.26" stroke="#222" stroke-width="0.8" stroke-dasharray="1.8,1.3"/>
<path d="M321.35,59.00 L321.35,60.33 L321.35,61.66 L321.35,62.99 L321.35,64.33 L321.35,65.66 L321.35,66.99 L321.35,68.32 L321.35,69.65 L321.35,70.98 L321.35,72.32 L321.35,73.65 L321.35,74.98 L321.35,76.31 L321.34,77.64 L321.33,78.97 L321.32,80.31 L321.30,81.64 L321.28,82.97 L321.26,84.30 L321.24,85.63 L321.20,86.96 L321.16,88.30 L321.10,89.63 L321.04,90.96 L320.98,92.29 L320.91,93.62 L320.85,94.95 L320.79,96.29 L320.73,97.62 L320.66,98.95 L320.59,100.28 L320.53,101.61 L320.46,102.94 L320.39,104.28 L320.32,105.61 L320.26,106.94 L320.20,108.27 L320.15,109.60 L320.09,110.93 L320.04,112.27 L319.99,113.60 L319.94,114.93 L319.89,116.26 L319.84,117.59 L319.78,118.92 L319.73,120.26 L319.66,121.59 L319.60,122.92 L319.52,124.25 L319.44,125.58 L319.35,126.91 L319.25,128.25 L319.15,129.58 L319.04,130.91 L318.94,132.24 L318.83,133.57 L318.73,134.90 L318.64,136.24 L318.56,137.57 L318.48,138.90 L318.42,140.23 L318.36,141.56 L318.30,142.89 L318.24,144.23 L318.18,145.56 L318.13,146.89 L318.07,148.22 L318.02,149.55 L317.97,150.88 L317.93,152.22 L317.89,153.55 L317.86,154.88 L317.83,156.21 L317.81,157.54 L317.80,158.87 L317.80,160.21 L317.80,161.54 L317.80,162.87 L317.80,164.20 L317.80,165.53 L317.80,166.86 L317.80,168.20 L317.80,169.53 L317.80,170.86 L317.80,172.19 L317.80,173.52 L317.80,174.85 L317.80,176.19 L317.80,177.52 L317.80,178.85 L317.80,180.18 L317.80,181.51 L317.80,182.84 L317.80,184.18 L317.80,185.51 L317.80,186.84 L317.80,188.17 L317.80,189.50 L317.80,190.83 L317.80,192.17 L317.80,193.50 L317.80,194.83 L317.80,196.16 L317.80,197.49 L317.80,198.82 L317.80,200.16 L317.80,201.49 L317.80,202.82 L317.80,204.15 L317.80,205.48 L317.80,206.81 L317.80,208.15 L317.80,209.48 L317.80,210.81 L317.81,212.14 L317.83,213.47 L317.85,214.80 L317.89,216.14 L317.92,217.47 L317.96,218.80 L318.00,220.13 L318.04,221.46 L318.08,222.79 L318.13,224.13 L318.17,225.46 L318.21,226.79 L318.25,228.12 L318.30,229.45 L318.35,230.78 L318.40,232.12 L318.45,233.45 L318.50,234.78 L318.56,236.11 L318.61,237.44 L318.67,238.77 L318.73,240.11 L318.79,241.44 L318.85,242.77 L318.91,244.10 L318.97,245.43 L319.03,246.76 L319.10,248.10 L319.17,249.43 L319.23,250.76 L319.30,252.09 L319.37,253.42 L319.44,254.75 L319.51,256.09 L319.57,257.42 L319.64,258.75 L319.71,260.08 L319.78,261.41 L319.85,262.74 L319.93,264.08 L320.00,265.41 L320.08,266.74 L320.16,268.07 L320.24,269.40 L320.32,270.73 L320.41,272.07 L320.50,273.40 L320.61,274.73 L320.71,276.06 L320.82,277.39 L320.94,278.72 L321.05,280.06 L321.16,281.39 L321.27,282.72 L321.37,284.05 L321.47,285.38 L321.55,286.71 L321.63,288.05 L321.71,289.38 L321.79,290.71 L321.86,292.04 L321.94,293.37 L322.01,294.70 L322.08,296.04 L322.14,297.37 L322.20,298.70 L322.25,300.03 L322.29,301.36 L322.33,302.69 L322.36,304.03 L322.38,305.36 L322.40,306.69 L322.43,308.02 L322.45,309.35 L322.47,310.68 L322.48,312.02 L322.50,313.35 L322.51,314.68 L322.53,316.01 L322.54,317.34 L322.54,318.67 L322.55,320.01 L322.55,321.34 L322.55,322.67 L322.55,324.00 L310.95,324.00 L310.95,322.67 L310.95,321.34 L310.95,320.01 L310.96,318.67 L310.96,317.34 L310.97,316.01 L310.99,314.68 L311.00,313.35 L311.02,312.02 L311.03,310.68 L311.05,309.35 L311.07,308.02 L311.10,306.69 L311.12,305.36 L311.14,304.03 L311.17,302.69 L311.21,301.36 L311.25,300.03 L311.30,298.70 L311.36,297.37 L311.42,296.04 L311.49,294.70 L311.56,293.37 L311.64,292.04 L311.71,290.71 L311.79,289.38 L311.87,288.05 L311.95,286.71 L312.03,285.38 L312.13,284.05 L312.23,282.72 L312.34,281.39 L312.45,280.06 L312.56,278.72 L312.68,277.39 L312.79,276.06 L312.89,274.73 L313.00,273.40 L313.09,272.07 L313.18,270.73 L313.26,269.40 L313.34,268.07 L313.42,266.74 L313.50,265.41 L313.57,264.08 L313.65,262.74 L313.72,261.41 L313.79,260.08 L313.86,258.75 L313.93,257.42 L313.99,256.09 L314.06,254.75 L314.13,253.42 L314.20,252.09 L314.27,250.76 L314.33,249.43 L314.40,248.10 L314.47,246.76 L314.53,245.43 L314.59,244.10 L314.65,242.77 L314.71,241.44 L314.77,240.11 L314.83,238.77 L314.89,237.44 L314.94,236.11 L315.00,234.78 L315.05,233.45 L315.10,232.12 L315.15,230.78 L315.20,229.45 L315.25,228.12 L315.29,226.79 L315.33,225.46 L315.37,224.13 L315.42,222.79 L315.46,221.46 L315.50,220.13 L315.54,218.80 L315.58,217.47 L315.61,216.14 L315.65,214.80 L315.67,213.47 L315.69,212.14 L315.70,210.81 L315.70,209.48 L315.70,208.15 L315.70,206.81 L315.70,205.48 L315.70,204.15 L315.70,202.82 L315.70,201.49 L315.70,200.16 L315.70,198.82 L315.70,197.49 L315.70,196.16 L315.70,194.83 L315.70,193.50 L315.70,192.17 L315.70,190.83 L315.70,189.50 L315.70,188.17 L315.70,186.84 L315.70,185.51 L315.70,184.18 L315.70,182.84 L315.70,181.51 L315.70,180.18 L315.70,178.85 L315.70,177.52 L315.70,176.19 L315.70,174.85 L315.70,173.52 L315.70,172.19 L315.70,170.86 L315.70,169.53 L315.70,168.20 L315.70,166.86 L315.70,165.53 L315.70,164.20 L315.70,162.87 L315.70,161.54 L315.70,160.21 L315.70,158.87 L315.69,157.54 L315.67,156.21 L315.64,154.88 L315.61,153.55 L315.57,152.22 L315.53,150.88 L315.48,149.55 L315.43,148.22 L315.37,146.89 L315.32,145.56 L315.26,144.23 L315.20,142.89 L315.14,141.56 L315.08,140.23 L315.02,138.90 L314.94,137.57 L314.86,136.24 L314.77,134.90 L314.67,133.57 L314.56,132.24 L314.46,130.91 L314.35,129.58 L314.25,128.25 L314.15,126.91 L314.06,125.58 L313.98,124.25 L313.90,122.92 L313.84,121.59 L313.77,120.26 L313.72,118.92 L313.66,117.59 L313.61,116.26 L313.56,114.93 L313.51,113.60 L313.46,112.27 L313.41,110.93 L313.35,109.60 L313.30,108.27 L313.24,106.94 L313.18,105.61 L313.11,104.28 L313.04,102.94 L312.97,101.61 L312.91,100.28 L312.84,98.95 L312.77,97.62 L312.71,96.29 L312.65,94.95 L312.59,93.62 L312.52,92.29 L312.46,90.96 L312.40,89.63 L312.34,88.30 L312.30,86.96 L312.26,85.63 L312.24,84.30 L312.22,82.97 L312.20,81.64 L312.18,80.31 L312.17,78.97 L312.16,77.64 L312.15,76.31 L312.15,74.98 L312.15,73.65 L312.15,72.32 L312.15,70.98 L312.15,69.65 L312.15,68.32 L312.15,66.99 L312.15,65.66 L312.15,64.33 L312.15,62.99 L312.15,61.66 L312.15,60.33 L312.15,59.00 Z" fill="#31a07c" stroke="#333" stroke-width="0.75" stroke-linejoin="round"/>
<line x1="316.75" y1="62" x2="316.75" y2="321.3" stroke="#e8e8f0" stroke-width="0.5" stroke-dasharray="1.6,0.8" opacity="0.35"/>
<line x1="311.02" y1="311.97" x2="322.48" y2="311.97" stroke="#222" stroke-width="0.8" stroke-dasharray="1.8,1.3"/>
<line x1="315.70" y1="210.58" x2="317.80" y2="210.58" stroke="#222" stroke-width="0.8" stroke-dasharray="3.6,1.3"/>
<line x1="312.15" y1="73.93" x2="321.35" y2="73.93" stroke="#222" stroke-width="0.8" stroke-dasharray="1.8,1.3"/>
<path d="M374.85,59.00 L374.85,60.33 L374.85,61.66 L374.85,62.99 L374.84,64.33 L374.83,65.66 L374.82,66.99 L374.82,68.32 L374.81,69.65 L374.79,70.98 L374.78,72.32 L374.77,73.65 L374.76,74.98 L374.74,76.31 L374.73,77.64 L374.71,78.97 L374.69,80.31 L374.68,81.64 L374.65,82.97 L374.63,84.30 L374.61,85.63 L374.59,86.96 L374.56,88.30 L374.54,89.63 L374.51,90.96 L374.48,92.29 L374.45,93.62 L374.42,94.95 L374.39,96.29 L374.36,97.62 L374.32,98.95 L374.28,100.28 L374.24,101.61 L374.20,102.94 L374.16,104.28 L374.11,105.61 L374.06,106.94 L374.01,108.27 L373.94,109.60 L373.87,110.93 L373.80,112.27 L373.72,113.60 L373.63,114.93 L373.55,116.26 L373.46,117.59 L373.38,118.92 L373.30,120.26 L373.22,121.59 L373.14,122.92 L373.07,124.25 L372.99,125.58 L372.90,126.91 L372.81,128.25 L372.73,129.58 L372.64,130.91 L372.56,132.24 L372.49,133.57 L372.42,134.90 L372.37,136.24 L372.33,137.57 L372.31,138.90 L372.30,140.23 L372.30,141.56 L372.30,142.89 L372.30,144.23 L372.30,145.56 L372.30,146.89 L372.30,148.22 L372.30,149.55 L372.30,150.88 L372.30,152.22 L372.30,153.55 L372.30,154.88 L372.30,156.21 L372.30,157.54 L372.30,158.87 L372.30,160.21 L372.30,161.54 L372.30,162.87 L372.30,164.20 L372.30,165.53 L372.30,166.86 L372.30,168.20 L372.30,169.53 L372.30,170.86 L372.30,172.19 L372.30,173.52 L372.30,174.85 L372.30,176.19 L372.30,177.52 L372.30,178.85 L372.30,180.18 L372.30,181.51 L372.30,182.84 L372.30,184.18 L372.30,185.51 L372.30,186.84 L372.30,188.17 L372.30,189.50 L372.30,190.83 L372.30,192.17 L372.30,193.50 L372.30,194.83 L372.30,196.16 L372.30,197.49 L372.30,198.82 L372.30,200.16 L372.30,201.49 L372.30,202.82 L372.30,204.15 L372.30,205.48 L372.30,206.81 L372.30,208.15 L372.30,209.48 L372.30,210.81 L372.31,212.14 L372.32,213.47 L372.33,214.80 L372.35,216.14 L372.37,217.47 L372.39,218.80 L372.41,220.13 L372.44,221.46 L372.46,222.79 L372.49,224.13 L372.51,225.46 L372.54,226.79 L372.58,228.12 L372.61,229.45 L372.65,230.78 L372.69,232.12 L372.74,233.45 L372.78,234.78 L372.83,236.11 L372.88,237.44 L372.94,238.77 L372.99,240.11 L373.05,241.44 L373.11,242.77 L373.18,244.10 L373.25,245.43 L373.32,246.76 L373.40,248.10 L373.48,249.43 L373.56,250.76 L373.65,252.09 L373.74,253.42 L373.83,254.75 L373.93,256.09 L374.03,257.42 L374.14,258.75 L374.26,260.08 L374.38,261.41 L374.50,262.74 L374.63,264.08 L374.76,265.41 L374.88,266.74 L375.01,268.07 L375.14,269.40 L375.26,270.73 L375.38,272.07 L375.50,273.40 L375.62,274.73 L375.75,276.06 L375.87,277.39 L375.99,278.72 L376.11,280.06 L376.24,281.39 L376.35,282.72 L376.47,284.05 L376.58,285.38 L376.69,286.71 L376.79,288.05 L376.90,289.38 L377.01,290.71 L377.12,292.04 L377.24,293.37 L377.35,294.70 L377.45,296.04 L377.55,297.37 L377.64,298.70 L377.71,300.03 L377.78,301.36 L377.82,302.69 L377.86,304.03 L377.88,305.36 L377.91,306.69 L377.93,308.02 L377.95,309.35 L377.97,310.68 L377.99,312.02 L378.00,313.35 L378.02,314.68 L378.03,316.01 L378.04,317.34 L378.04,318.67 L378.05,320.01 L378.05,321.34 L378.05,322.67 L378.05,324.00 L364.45,324.00 L364.45,322.67 L364.45,321.34 L364.45,320.01 L364.46,318.67 L364.46,317.34 L364.47,316.01 L364.48,314.68 L364.50,313.35 L364.51,312.02 L364.53,310.68 L364.55,309.35 L364.57,308.02 L364.59,306.69 L364.62,305.36 L364.64,304.03 L364.68,302.69 L364.72,301.36 L364.79,300.03 L364.86,298.70 L364.95,297.37 L365.05,296.04 L365.15,294.70 L365.26,293.37 L365.38,292.04 L365.49,290.71 L365.60,289.38 L365.71,288.05 L365.81,286.71 L365.92,285.38 L366.03,284.05 L366.15,282.72 L366.26,281.39 L366.39,280.06 L366.51,278.72 L366.63,277.39 L366.75,276.06 L366.88,274.73 L367.00,273.40 L367.12,272.07 L367.24,270.73 L367.36,269.40 L367.49,268.07 L367.62,266.74 L367.74,265.41 L367.87,264.08 L368.00,262.74 L368.12,261.41 L368.24,260.08 L368.36,258.75 L368.47,257.42 L368.57,256.09 L368.67,254.75 L368.76,253.42 L368.85,252.09 L368.94,250.76 L369.02,249.43 L369.10,248.10 L369.18,246.76 L369.25,245.43 L369.32,244.10 L369.39,242.77 L369.45,241.44 L369.51,240.11 L369.56,238.77 L369.62,237.44 L369.67,236.11 L369.72,234.78 L369.76,233.45 L369.81,232.12 L369.85,230.78 L369.89,229.45 L369.92,228.12 L369.96,226.79 L369.99,225.46 L370.01,224.13 L370.04,222.79 L370.06,221.46 L370.09,220.13 L370.11,218.80 L370.13,217.47 L370.15,216.14 L370.17,214.80 L370.18,213.47 L370.19,212.14 L370.20,210.81 L370.20,209.48 L370.20,208.15 L370.20,206.81 L370.20,205.48 L370.20,204.15 L370.20,202.82 L370.20,201.49 L370.20,200.16 L370.20,198.82 L370.20,197.49 L370.20,196.16 L370.20,194.83 L370.20,193.50 L370.20,192.17 L370.20,190.83 L370.20,189.50 L370.20,188.17 L370.20,186.84 L370.20,185.51 L370.20,184.18 L370.20,182.84 L370.20,181.51 L370.20,180.18 L370.20,178.85 L370.20,177.52 L370.20,176.19 L370.20,174.85 L370.20,173.52 L370.20,172.19 L370.20,170.86 L370.20,169.53 L370.20,168.20 L370.20,166.86 L370.20,165.53 L370.20,164.20 L370.20,162.87 L370.20,161.54 L370.20,160.21 L370.20,158.87 L370.20,157.54 L370.20,156.21 L370.20,154.88 L370.20,153.55 L370.20,152.22 L370.20,150.88 L370.20,149.55 L370.20,148.22 L370.20,146.89 L370.20,145.56 L370.20,144.23 L370.20,142.89 L370.20,141.56 L370.20,140.23 L370.19,138.90 L370.17,137.57 L370.13,136.24 L370.08,134.90 L370.01,133.57 L369.94,132.24 L369.86,130.91 L369.77,129.58 L369.69,128.25 L369.60,126.91 L369.51,125.58 L369.43,124.25 L369.36,122.92 L369.28,121.59 L369.20,120.26 L369.12,118.92 L369.04,117.59 L368.95,116.26 L368.87,114.93 L368.78,113.60 L368.70,112.27 L368.63,110.93 L368.56,109.60 L368.49,108.27 L368.44,106.94 L368.39,105.61 L368.34,104.28 L368.30,102.94 L368.26,101.61 L368.22,100.28 L368.18,98.95 L368.14,97.62 L368.11,96.29 L368.08,94.95 L368.05,93.62 L368.02,92.29 L367.99,90.96 L367.96,89.63 L367.94,88.30 L367.91,86.96 L367.89,85.63 L367.87,84.30 L367.85,82.97 L367.82,81.64 L367.81,80.31 L367.79,78.97 L367.77,77.64 L367.76,76.31 L367.74,74.98 L367.73,73.65 L367.72,72.32 L367.71,70.98 L367.69,69.65 L367.68,68.32 L367.68,66.99 L367.67,65.66 L367.66,64.33 L367.65,62.99 L367.65,61.66 L367.65,60.33 L367.65,59.00 Z" fill="#69bc6d" stroke="#333" stroke-width="0.75" stroke-linejoin="round"/>
<line x1="371.25" y1="62" x2="371.25" y2="321.3" stroke="#e8e8f0" stroke-width="0.5" stroke-dasharray="1.6,0.8" opacity="0.35"/>
<line x1="364.48" y1="314.56" x2="378.02" y2="314.56" stroke="#222" stroke-width="0.8" stroke-dasharray="1.8,1.3"/>
<line x1="365.47" y1="290.96" x2="377.03" y2="290.96" stroke="#222" stroke-width="0.8" stroke-dasharray="3.6,1.3"/>
<line x1="368.06" y1="94.15" x2="374.44" y2="94.15" stroke="#222" stroke-width="0.8" stroke-dasharray="1.8,1.3"/>
<path d="M427.85,59.00 L427.85,60.33 L427.85,61.66 L427.87,62.99 L427.89,64.33 L427.92,65.66 L427.94,66.99 L427.97,68.32 L427.99,69.65 L428.00,70.98 L428.02,72.32 L428.04,73.65 L428.05,74.98 L428.05,76.31 L428.06,77.64 L428.07,78.97 L428.07,80.31 L428.08,81.64 L428.08,82.97 L428.09,84.30 L428.09,85.63 L428.10,86.96 L428.10,88.30 L428.10,89.63 L428.10,90.96 L428.10,92.29 L428.09,93.62 L428.08,94.95 L428.07,96.29 L428.05,97.62 L428.02,98.95 L428.00,100.28 L427.97,101.61 L427.94,102.94 L427.91,104.28 L427.88,105.61 L427.85,106.94 L427.82,108.27 L427.78,109.60 L427.73,110.93 L427.68,112.27 L427.63,113.60 L427.58,114.93 L427.52,116.26 L427.46,117.59 L427.40,118.92 L427.35,120.26 L427.30,121.59 L427.25,122.92 L427.21,124.25 L427.16,125.58 L427.11,126.91 L427.05,128.25 L427.00,129.58 L426.95,130.91 L426.91,132.24 L426.86,133.57 L426.83,134.90 L426.79,136.24 L426.77,137.57 L426.76,138.90 L426.75,140.23 L426.75,141.56 L426.75,142.89 L426.74,144.23 L426.74,145.56 L426.74,146.89 L426.74,148.22 L426.74,149.55 L426.74,150.88 L426.74,152.22 L426.73,153.55 L426.73,154.88 L426.73,156.21 L426.73,157.54 L426.73,158.87 L426.73,160.21 L426.73,161.54 L426.73,162.87 L426.72,164.20 L426.72,165.53 L426.72,166.86 L426.72,168.20 L426.72,169.53 L426.72,170.86 L426.72,172.19 L426.72,173.52 L426.72,174.85 L426.72,176.19 L426.71,177.52 L426.71,178.85 L426.71,180.18 L426.71,181.51 L426.71,182.84 L426.71,184.18 L426.71,185.51 L426.71,186.84 L426.71,188.17 L426.71,189.50 L426.71,190.83 L426.71,192.17 L426.71,193.50 L426.71,194.83 L426.71,196.16 L426.71,197.49 L426.70,198.82 L426.70,200.16 L426.70,201.49 L426.70,202.82 L426.70,204.15 L426.70,205.48 L426.70,206.81 L426.70,208.15 L426.70,209.48 L426.70,210.81 L426.70,212.14 L426.70,213.47 L426.70,214.80 L426.70,216.14 L426.70,217.47 L426.70,218.80 L426.70,220.13 L426.70,221.46 L426.70,222.79 L426.70,224.13 L426.70,225.46 L426.70,226.79 L426.70,228.12 L426.70,229.45 L426.70,230.78 L426.70,232.12 L426.70,233.45 L426.70,234.78 L426.71,236.11 L426.74,237.44 L426.79,238.77 L426.85,240.11 L426.92,241.44 L427.00,242.77 L427.08,244.10 L427.16,245.43 L427.25,246.76 L427.36,248.10 L427.48,249.43 L427.61,250.76 L427.75,252.09 L427.88,253.42 L428.02,254.75 L428.16,256.09 L428.31,257.42 L428.46,258.75 L428.62,260.08 L428.78,261.41 L428.94,262.74 L429.11,264.08 L429.28,265.41 L429.45,266.74 L429.63,268.07 L429.81,269.40 L429.99,270.73 L430.17,272.07 L430.37,273.40 L430.57,274.73 L430.79,276.06 L431.00,277.39 L431.22,278.72 L431.44,280.06 L431.66,281.39 L431.87,282.72 L432.07,284.05 L432.27,285.38 L432.45,286.71 L432.62,288.05 L432.79,289.38 L432.96,290.71 L433.13,292.04 L433.30,293.37 L433.47,294.70 L433.63,296.04 L433.77,297.37 L433.91,298.70 L434.03,300.03 L434.13,301.36 L434.21,302.69 L434.26,304.03 L434.31,305.36 L434.36,306.69 L434.40,308.02 L434.45,309.35 L434.48,310.68 L434.52,312.02 L434.55,313.35 L434.58,314.68 L434.61,316.01 L434.62,317.34 L434.64,318.67 L434.65,320.01 L434.65,321.34 L434.65,322.67 L434.65,324.00 L416.85,324.00 L416.85,322.67 L416.85,321.34 L416.85,320.01 L416.86,318.67 L416.88,317.34 L416.89,316.01 L416.92,314.68 L416.95,313.35 L416.98,312.02 L417.02,310.68 L417.05,309.35 L417.10,308.02 L417.14,306.69 L417.19,305.36 L417.24,304.03 L417.29,302.69 L417.37,301.36 L417.47,300.03 L417.59,298.70 L417.73,297.37 L417.87,296.04 L418.03,294.70 L418.20,293.37 L418.37,292.04 L418.54,290.71 L418.71,289.38 L418.88,288.05 L419.05,286.71 L419.23,285.38 L419.43,284.05 L419.63,282.72 L419.84,281.39 L420.06,280.06 L420.28,278.72 L420.50,277.39 L420.71,276.06 L420.93,274.73 L421.13,273.40 L421.33,272.07 L421.51,270.73 L421.69,269.40 L421.87,268.07 L422.05,266.74 L422.22,265.41 L422.39,264.08 L422.56,262.74 L422.72,261.41 L422.88,260.08 L423.04,258.75 L423.19,257.42 L423.34,256.09 L423.48,254.75 L423.62,253.42 L423.75,252.09 L423.89,250.76 L424.02,249.43 L424.14,248.10 L424.25,246.76 L424.34,245.43 L424.42,244.10 L424.50,242.77 L424.58,241.44 L424.65,240.11 L424.71,238.77 L424.76,237.44 L424.79,236.11 L424.80,234.78 L424.80,233.45 L424.80,232.12 L424.80,230.78 L424.80,229.45 L424.80,228.12 L424.80,226.79 L424.80,225.46 L424.80,224.13 L424.80,222.79 L424.80,221.46 L424.80,220.13 L424.80,218.80 L424.80,217.47 L424.80,216.14 L424.80,214.80 L424.80,213.47 L424.80,212.14 L424.80,210.81 L424.80,209.48 L424.80,208.15 L424.80,206.81 L424.80,205.48 L424.80,204.15 L424.80,202.82 L424.80,201.49 L424.80,200.16 L424.80,198.82 L424.79,197.49 L424.79,196.16 L424.79,194.83 L424.79,193.50 L424.79,192.17 L424.79,190.83 L424.79,189.50 L424.79,188.17 L424.79,186.84 L424.79,185.51 L424.79,184.18 L424.79,182.84 L424.79,181.51 L424.79,180.18 L424.79,178.85 L424.79,177.52 L424.78,176.19 L424.78,174.85 L424.78,173.52 L424.78,172.19 L424.78,170.86 L424.78,169.53 L424.78,168.20 L424.78,166.86 L424.78,165.53 L424.78,164.20 L424.77,162.87 L424.77,161.54 L424.77,160.21 L424.77,158.87 L424.77,157.54 L424.77,156.21 L424.77,154.88 L424.77,153.55 L424.76,152.22 L424.76,150.88 L424.76,149.55 L424.76,148.22 L424.76,146.89 L424.76,145.56 L424.76,144.23 L424.75,142.89 L424.75,141.56 L424.75,140.23 L424.74,138.90 L424.73,137.57 L424.71,136.24 L424.67,134.90 L424.64,133.57 L424.59,132.24 L424.55,130.91 L424.50,129.58 L424.45,128.25 L424.39,126.91 L424.34,125.58 L424.29,124.25 L424.25,122.92 L424.20,121.59 L424.15,120.26 L424.10,118.92 L424.04,117.59 L423.98,116.26 L423.92,114.93 L423.87,113.60 L423.82,112.27 L423.77,110.93 L423.72,109.60 L423.68,108.27 L423.65,106.94 L423.62,105.61 L423.59,104.28 L423.56,102.94 L423.53,101.61 L423.50,100.28 L423.48,98.95 L423.45,97.62 L423.43,96.29 L423.42,94.95 L423.41,93.62 L423.40,92.29 L423.40,90.96 L423.40,89.63 L423.40,88.30 L423.40,86.96 L423.41,85.63 L423.41,84.30 L423.42,82.97 L423.42,81.64 L423.43,80.31 L423.43,78.97 L423.44,77.64 L423.45,76.31 L423.45,74.98 L423.46,73.65 L423.48,72.32 L423.50,70.98 L423.51,69.65 L423.53,68.32 L423.56,66.99 L423.58,65.66 L423.61,64.33 L423.63,62.99 L423.65,61.66 L423.65,60.33 L423.65,59.00 Z" fill="#a2c93c" stroke="#333" stroke-width="0.75" stroke-linejoin="round"/>
<line x1="425.75" y1="62" x2="425.75" y2="321.3" stroke="#e8e8f0" stroke-width="0.5" stroke-dasharray="1.6,0.8" opacity="0.35"/>
<line x1="416.91" y1="315.08" x2="434.59" y2="315.08" stroke="#222" stroke-width="0.8" stroke-dasharray="1.8,1.3"/>
<line x1="417.17" y1="306.00" x2="434.33" y2="306.00" stroke="#222" stroke-width="0.8" stroke-dasharray="3.6,1.3"/>
<line x1="424.79" y1="190.87" x2="426.71" y2="190.87" stroke="#222" stroke-width="0.8" stroke-dasharray="1.8,1.3"/>
</g>
<line x1="60" y1="61.5" x2="60" y2="321.8" stroke="#7a7a7a" stroke-width="1"/>
<line x1="59.5" y1="321.9" x2="450" y2="321.9" stroke="#b0b0b0" stroke-width="1.8"/>
<line x1="60" y1="61.8" x2="62" y2="61.8" stroke="#8a8a8a" stroke-width="0.8"/>
<polyline points="99.4,316.5 153.8,68.4 208.1,144.2 262.5,210.3 316.8,210.6 371.3,290.8 426.0,305.9" fill="none" stroke="#ec1a20" stroke-width="1.3" stroke-linejoin="round"/>
<circle cx="99.4" cy="316.5" r="1.9" fill="#ec1a20"/>
<circle cx="153.8" cy="68.4" r="1.9" fill="#ec1a20"/>
<circle cx="208.1" cy="144.2" r="1.9" fill="#ec1a20"/>
<circle cx="262.5" cy="210.3" r="1.9" fill="#ec1a20"/>
<circle cx="316.8" cy="210.6" r="1.9" fill="#ec1a20"/>
<circle cx="371.3" cy="290.8" r="1.9" fill="#ec1a20"/>
<circle cx="426.0" cy="305.9" r="1.9" fill="#ec1a20"/>
<text x="54.30" y="65.00" font-size="8.5" font-weight="bold" font-family="Liberation Sans" fill="#111" text-anchor="end" textLength="9.56" lengthAdjust="spacingAndGlyphs" stroke="#111" stroke-width="0.2">1.0</text>
<line x1="60" y1="62.00" x2="62" y2="62.00" stroke="#8a8a8a" stroke-width="0.6"/>
<text x="54.30" y="116.86" font-size="8.5" font-weight="bold" font-family="Liberation Sans" fill="#111" text-anchor="end" textLength="9.56" lengthAdjust="spacingAndGlyphs" stroke="#111" stroke-width="0.2">0.8</text>
<line x1="60" y1="113.86" x2="62" y2="113.86" stroke="#8a8a8a" stroke-width="0.6"/>
<text x="54.30" y="168.72" font-size="8.5" font-weight="bold" font-family="Liberation Sans" fill="#111" text-anchor="end" textLength="9.56" lengthAdjust="spacingAndGlyphs" stroke="#111" stroke-width="0.2">0.6</text>
<line x1="60" y1="165.72" x2="62" y2="165.72" stroke="#8a8a8a" stroke-width="0.6"/>
<text x="54.30" y="220.58" font-size="8.5" font-weight="bold" font-family="Liberation Sans" fill="#111" text-anchor="end" textLength="9.56" lengthAdjust="spacingAndGlyphs" stroke="#111" stroke-width="0.2">0.4</text>
<line x1="60" y1="217.58" x2="62" y2="217.58" stroke="#8a8a8a" stroke-width="0.6"/>
<text x="54.30" y="272.44" font-size="8.5" font-weight="bold" font-family="Liberation Sans" fill="#111" text-anchor="end" textLength="9.56" lengthAdjust="spacingAndGlyphs" stroke="#111" stroke-width="0.2">0.2</text>
<line x1="60" y1="269.44" x2="62" y2="269.44" stroke="#8a8a8a" stroke-width="0.6"/>
<text x="54.30" y="322.80" font-size="8.5" font-weight="bold" font-family="Liberation Sans" fill="#111" text-anchor="end" textLength="3.83" lengthAdjust="spacingAndGlyphs" stroke="#111" stroke-width="0.2">0</text>
<line x1="60" y1="321.30" x2="62" y2="321.30" stroke="#8a8a8a" stroke-width="0.6"/>
<text transform="translate(38.1,188.9) rotate(-90)" x="0" y="0" font-size="12" font-weight="bold" font-family="Liberation Sans" fill="#111" text-anchor="middle" textLength="184.2" lengthAdjust="spacingAndGlyphs">AI-Probability Index Predicting STEMI</text>
<line x1="282" y1="42.4" x2="300" y2="42.4" stroke="#ec1a20" stroke-width="2.2"/>
<text x="303.90" y="46.70" font-size="11.2" font-weight="bold" font-family="Liberation Sans" fill="#111" text-anchor="start" textLength="153.90" lengthAdjust="spacingAndGlyphs" stroke="#111" stroke-width="0.2">Median value of AI-probability index</text>
<text x="99.25" y="339.90" font-size="8.6" font-weight="bold" font-family="Liberation Sans" fill="#111" text-anchor="middle" textLength="28.50" lengthAdjust="spacingAndGlyphs" stroke="#111" stroke-width="0.2">Baseline</text>
<text x="154.50" y="339.90" font-size="8.6" font-weight="bold" font-family="Liberation Sans" fill="#111" text-anchor="middle" textLength="25.30" lengthAdjust="spacingAndGlyphs" stroke="#111" stroke-width="0.2">Pre-PCI</text>
<text x="208.00" y="339.90" font-size="8.6" font-weight="bold" font-family="Liberation Sans" fill="#111" text-anchor="middle" textLength="31.50" lengthAdjust="spacingAndGlyphs" stroke="#111" stroke-width="0.2">Immediate</text>
<text x="260.90" y="339.90" font-size="8.6" font-weight="bold" font-family="Liberation Sans" fill="#111" text-anchor="middle" textLength="21.90" lengthAdjust="spacingAndGlyphs" stroke="#111" stroke-width="0.2">6-hour</text>
<text x="317.50" y="339.90" font-size="8.6" font-weight="bold" font-family="Liberation Sans" fill="#111" text-anchor="middle" textLength="26.00" lengthAdjust="spacingAndGlyphs" stroke="#111" stroke-width="0.2">24-hour</text>
<text x="372.80" y="339.90" font-size="8.6" font-weight="bold" font-family="Liberation Sans" fill="#111" text-anchor="middle" textLength="42.30" lengthAdjust="spacingAndGlyphs" stroke="#111" stroke-width="0.2">At discharge</text>
<text x="427.50" y="339.90" font-size="8.6" font-weight="bold" font-family="Liberation Sans" fill="#111" text-anchor="middle" textLength="26.30" lengthAdjust="spacingAndGlyphs" stroke="#111" stroke-width="0.2">1 Month</text>
<text x="208.90" y="350.60" font-size="8.6" font-weight="bold" font-family="Liberation Sans" fill="#111" text-anchor="middle" textLength="26.10" lengthAdjust="spacingAndGlyphs" stroke="#111" stroke-width="0.2">post-PCI</text>
<text x="1.90" y="368.80" font-size="7.9" font-weight="bold" font-family="Liberation Sans" fill="#111" text-anchor="start" textLength="40.00" lengthAdjust="spacingAndGlyphs" stroke="#111" stroke-width="0.2">Median value</text>
<text x="1.90" y="389.30" font-size="8.0" font-weight="bold" font-family="Liberation Sans" fill="#111" text-anchor="start" textLength="56.10" lengthAdjust="spacingAndGlyphs" stroke="#111" stroke-width="0.2">Interquartile range</text>
<text x="94.70" y="368.60" font-size="7.8" font-weight="bold" font-family="Liberation Sans" fill="#111" text-anchor="middle" textLength="15.90" lengthAdjust="spacingAndGlyphs" stroke="#111" stroke-width="0.2">0.020</text>
<text x="150.30" y="368.60" font-size="7.8" font-weight="bold" font-family="Liberation Sans" fill="#111" text-anchor="middle" textLength="15.90" lengthAdjust="spacingAndGlyphs" stroke="#111" stroke-width="0.2">0.975</text>
<text x="205.60" y="368.60" font-size="7.8" font-weight="bold" font-family="Liberation Sans" fill="#111" text-anchor="middle" textLength="15.90" lengthAdjust="spacingAndGlyphs" stroke="#111" stroke-width="0.2">0.681</text>
<text x="262.00" y="368.60" font-size="7.8" font-weight="bold" font-family="Liberation Sans" fill="#111" text-anchor="middle" textLength="15.90" lengthAdjust="spacingAndGlyphs" stroke="#111" stroke-width="0.2">0.429</text>
<text x="318.00" y="368.60" font-size="7.8" font-weight="bold" font-family="Liberation Sans" fill="#111" text-anchor="middle" textLength="15.90" lengthAdjust="spacingAndGlyphs" stroke="#111" stroke-width="0.2">0.427</text>
<text x="373.90" y="368.60" font-size="7.8" font-weight="bold" font-family="Liberation Sans" fill="#111" text-anchor="middle" textLength="15.90" lengthAdjust="spacingAndGlyphs" stroke="#111" stroke-width="0.2">0.117</text>
<text x="429.80" y="368.60" font-size="7.8" font-weight="bold" font-family="Liberation Sans" fill="#111" text-anchor="middle" textLength="15.90" lengthAdjust="spacingAndGlyphs" stroke="#111" stroke-width="0.2">0.059</text>
<text x="94.60" y="389.60" font-size="7.8" font-weight="bold" font-family="Liberation Sans" fill="#111" text-anchor="middle" textLength="33.90" lengthAdjust="spacingAndGlyphs" stroke="#111" stroke-width="0.2">0.018-0.032</text>
<text x="150.30" y="389.60" font-size="7.8" font-weight="bold" font-family="Liberation Sans" fill="#111" text-anchor="middle" textLength="33.90" lengthAdjust="spacingAndGlyphs" stroke="#111" stroke-width="0.2">0.872-0.983</text>
<text x="206.10" y="389.60" font-size="7.8" font-weight="bold" font-family="Liberation Sans" fill="#111" text-anchor="middle" textLength="33.90" lengthAdjust="spacingAndGlyphs" stroke="#111" stroke-width="0.2">0.043-0.969</text>
<text x="262.40" y="389.60" font-size="7.8" font-weight="bold" font-family="Liberation Sans" fill="#111" text-anchor="middle" textLength="33.90" lengthAdjust="spacingAndGlyphs" stroke="#111" stroke-width="0.2">0.034-0.945</text>
<text x="317.70" y="389.60" font-size="7.8" font-weight="bold" font-family="Liberation Sans" fill="#111" text-anchor="middle" textLength="33.90" lengthAdjust="spacingAndGlyphs" stroke="#111" stroke-width="0.2">0.036-0.954</text>
<text x="373.80" y="389.60" font-size="7.8" font-weight="bold" font-family="Liberation Sans" fill="#111" text-anchor="middle" textLength="33.90" lengthAdjust="spacingAndGlyphs" stroke="#111" stroke-width="0.2">0.026-0.876</text>
<text x="429.00" y="389.60" font-size="7.8" font-weight="bold" font-family="Liberation Sans" fill="#111" text-anchor="middle" textLength="33.90" lengthAdjust="spacingAndGlyphs" stroke="#111" stroke-width="0.2">0.024-0.503</text>
<text x="591.10" y="8.50" font-size="9.4" font-weight="bold" font-family="Liberation Sans" fill="#111" text-anchor="middle" textLength="137.00" lengthAdjust="spacingAndGlyphs" stroke="#111" stroke-width="0.15">AI-probability Index predicting STEMI</text>
<line x1="509.60" y1="15.60" x2="509.60" y2="53.50" stroke="#e2e2e2" stroke-width="0.6"/>
<line x1="541.16" y1="15.60" x2="541.16" y2="53.50" stroke="#e2e2e2" stroke-width="0.6"/>
<line x1="572.72" y1="15.60" x2="572.72" y2="53.50" stroke="#e2e2e2" stroke-width="0.6"/>
<line x1="604.28" y1="15.60" x2="604.28" y2="53.50" stroke="#e2e2e2" stroke-width="0.6"/>
<line x1="635.84" y1="15.60" x2="635.84" y2="53.50" stroke="#e2e2e2" stroke-width="0.6"/>
<line x1="667.40" y1="15.60" x2="667.40" y2="53.50" stroke="#e2e2e2" stroke-width="0.6"/>
<line x1="488.70" y1="42.77" x2="682.00" y2="42.77" stroke="#e2e2e2" stroke-width="0.6"/>
<line x1="488.70" y1="32.05" x2="682.00" y2="32.05" stroke="#e2e2e2" stroke-width="0.6"/>
<line x1="488.70" y1="21.33" x2="682.00" y2="21.33" stroke="#e2e2e2" stroke-width="0.6"/>
<path d="M489.2,53.5 L489.2,53.5 L490.2,53.5 L491.1,53.5 L492.1,53.5 L493.1,53.5 L494.0,53.5 L495.0,53.5 L495.9,53.4 L496.9,53.4 L497.9,53.2 L498.8,53.0 L499.8,52.4 L500.8,51.7 L501.7,50.7 L502.7,49.5 L503.7,47.9 L504.6,45.7 L505.6,43.1 L506.6,39.7 L507.5,35.7 L508.5,31.5 L509.4,27.7 L510.4,24.1 L511.4,21.2 L512.3,19.3 L513.3,18.2 L514.3,17.7 L515.2,18.0 L516.2,18.8 L517.2,20.4 L518.1,23.1 L519.1,27.1 L520.0,31.4 L521.0,35.7 L522.0,39.7 L522.9,43.2 L523.9,46.0 L524.9,48.3 L525.8,50.0 L526.8,51.1 L527.8,51.8 L528.7,52.3 L529.7,52.7 L530.6,52.9 L531.6,53.1 L532.6,53.2 L533.5,53.3 L534.5,53.3 L535.5,53.4 L536.4,53.4 L537.4,53.3 L538.4,53.2 L539.3,53.1 L540.3,53.0 L541.3,53.0 L542.2,53.0 L543.2,53.1 L544.1,53.2 L545.1,53.2 L546.1,53.3 L547.0,53.4 L548.0,53.4 L549.0,53.4 L549.9,53.4 L550.9,53.4 L551.9,53.4 L552.8,53.4 L553.8,53.4 L554.7,53.4 L555.7,53.4 L556.7,53.4 L557.6,53.4 L558.6,53.4 L559.6,53.4 L560.5,53.4 L561.5,53.4 L562.5,53.4 L563.4,53.4 L564.4,53.4 L565.3,53.4 L566.3,53.3 L567.3,53.3 L568.2,53.3 L569.2,53.2 L570.2,53.2 L571.1,53.2 L572.1,53.2 L573.1,53.2 L574.0,53.2 L575.0,53.2 L576.0,53.2 L576.9,53.3 L577.9,53.3 L578.8,53.3 L579.8,53.4 L580.8,53.4 L581.7,53.4 L582.7,53.4 L583.7,53.4 L584.6,53.4 L585.6,53.4 L586.6,53.4 L587.5,53.4 L588.5,53.4 L589.4,53.4 L590.4,53.4 L591.4,53.4 L592.3,53.4 L593.3,53.4 L594.3,53.4 L595.2,53.4 L596.2,53.4 L597.2,53.4 L598.1,53.4 L599.1,53.4 L600.0,53.4 L601.0,53.4 L602.0,53.4 L602.9,53.4 L603.9,53.4 L604.9,53.4 L605.8,53.4 L606.8,53.4 L607.8,53.4 L608.7,53.4 L609.7,53.4 L610.7,53.4 L611.6,53.4 L612.6,53.4 L613.5,53.4 L614.5,53.4 L615.5,53.4 L616.4,53.4 L617.4,53.4 L618.4,53.4 L619.3,53.4 L620.3,53.4 L621.3,53.4 L622.2,53.4 L623.2,53.4 L624.1,53.4 L625.1,53.4 L626.1,53.4 L627.0,53.4 L628.0,53.4 L629.0,53.4 L629.9,53.4 L630.9,53.4 L631.9,53.4 L632.8,53.4 L633.8,53.4 L634.8,53.4 L635.7,53.4 L636.7,53.4 L637.6,53.4 L638.6,53.3 L639.6,53.3 L640.5,53.3 L641.5,53.2 L642.5,53.2 L643.4,53.2 L644.4,53.1 L645.4,53.1 L646.3,53.1 L647.3,53.1 L648.2,53.1 L649.2,53.1 L650.2,53.1 L651.1,53.1 L652.1,53.1 L653.1,53.1 L654.0,53.1 L655.0,53.1 L656.0,53.1 L656.9,53.1 L657.9,53.1 L658.8,53.1 L659.8,53.2 L660.8,53.2 L661.7,53.2 L662.7,53.2 L663.7,53.3 L664.6,53.3 L665.6,53.3 L666.6,53.3 L667.5,53.4 L668.5,53.4 L669.5,53.4 L670.4,53.4 L671.4,53.4 L672.3,53.4 L673.3,53.4 L674.3,53.4 L675.2,53.4 L676.2,53.4 L677.2,53.4 L678.1,53.5 L679.1,53.5 L680.1,53.5 L681.0,53.5 L681.5,53.5 L681.5,53.5 Z" fill="#b3a9cf" stroke="none"/>
<line x1="509.60" y1="15.60" x2="509.60" y2="53.50" stroke="#fff" stroke-width="0.6" opacity="0.3"/>
<line x1="541.16" y1="15.60" x2="541.16" y2="53.50" stroke="#fff" stroke-width="0.6" opacity="0.3"/>
<line x1="572.72" y1="15.60" x2="572.72" y2="53.50" stroke="#fff" stroke-width="0.6" opacity="0.3"/>
<line x1="604.28" y1="15.60" x2="604.28" y2="53.50" stroke="#fff" stroke-width="0.6" opacity="0.3"/>
<line x1="635.84" y1="15.60" x2="635.84" y2="53.50" stroke="#fff" stroke-width="0.6" opacity="0.3"/>
<line x1="667.40" y1="15.60" x2="667.40" y2="53.50" stroke="#fff" stroke-width="0.6" opacity="0.3"/>
<line x1="488.70" y1="42.77" x2="682.00" y2="42.77" stroke="#fff" stroke-width="0.6" opacity="0.3"/>
<line x1="488.70" y1="32.05" x2="682.00" y2="32.05" stroke="#fff" stroke-width="0.6" opacity="0.3"/>
<line x1="488.70" y1="21.33" x2="682.00" y2="21.33" stroke="#fff" stroke-width="0.6" opacity="0.3"/>
<rect x="511.97" y="17.46" width="5.84" height="36.04" fill="#5f4699"/>
<rect x="517.81" y="52.21" width="9.15" height="1.29" fill="#5f4699"/>
<rect x="540.53" y="52.64" width="6.47" height="0.86" fill="#5f4699"/>
<rect x="569.56" y="53.07" width="6.31" height="0.43" fill="#5f4699"/>
<rect x="643.73" y="53.07" width="15.78" height="0.43" fill="#5f4699"/>
<path d="M489.2,53.5 L490.2,53.5 L491.1,53.5 L492.1,53.5 L493.1,53.5 L494.0,53.5 L495.0,53.5 L495.9,53.4 L496.9,53.4 L497.9,53.2 L498.8,53.0 L499.8,52.4 L500.8,51.7 L501.7,50.7 L502.7,49.5 L503.7,47.9 L504.6,45.7 L505.6,43.1 L506.6,39.7 L507.5,35.7 L508.5,31.5 L509.4,27.7 L510.4,24.1 L511.4,21.2 L512.3,19.3 L513.3,18.2 L514.3,17.7 L515.2,18.0 L516.2,18.8 L517.2,20.4 L518.1,23.1 L519.1,27.1 L520.0,31.4 L521.0,35.7 L522.0,39.7 L522.9,43.2 L523.9,46.0 L524.9,48.3 L525.8,50.0 L526.8,51.1 L527.8,51.8 L528.7,52.3 L529.7,52.7 L530.6,52.9 L531.6,53.1 L532.6,53.2 L533.5,53.3 L534.5,53.3 L535.5,53.4 L536.4,53.4 L537.4,53.3 L538.4,53.2 L539.3,53.1 L540.3,53.0 L541.3,53.0 L542.2,53.0 L543.2,53.1 L544.1,53.2 L545.1,53.2 L546.1,53.3 L547.0,53.4 L548.0,53.4 L549.0,53.4 L549.9,53.4 L550.9,53.4 L551.9,53.4 L552.8,53.4 L553.8,53.4 L554.7,53.4 L555.7,53.4 L556.7,53.4 L557.6,53.4 L558.6,53.4 L559.6,53.4 L560.5,53.4 L561.5,53.4 L562.5,53.4 L563.4,53.4 L564.4,53.4 L565.3,53.4 L566.3,53.3 L567.3,53.3 L568.2,53.3 L569.2,53.2 L570.2,53.2 L571.1,53.2 L572.1,53.2 L573.1,53.2 L574.0,53.2 L575.0,53.2 L576.0,53.2 L576.9,53.3 L577.9,53.3 L578.8,53.3 L579.8,53.4 L580.8,53.4 L581.7,53.4 L582.7,53.4 L583.7,53.4 L584.6,53.4 L585.6,53.4 L586.6,53.4 L587.5,53.4 L588.5,53.4 L589.4,53.4 L590.4,53.4 L591.4,53.4 L592.3,53.4 L593.3,53.4 L594.3,53.4 L595.2,53.4 L596.2,53.4 L597.2,53.4 L598.1,53.4 L599.1,53.4 L600.0,53.4 L601.0,53.4 L602.0,53.4 L602.9,53.4 L603.9,53.4 L604.9,53.4 L605.8,53.4 L606.8,53.4 L607.8,53.4 L608.7,53.4 L609.7,53.4 L610.7,53.4 L611.6,53.4 L612.6,53.4 L613.5,53.4 L614.5,53.4 L615.5,53.4 L616.4,53.4 L617.4,53.4 L618.4,53.4 L619.3,53.4 L620.3,53.4 L621.3,53.4 L622.2,53.4 L623.2,53.4 L624.1,53.4 L625.1,53.4 L626.1,53.4 L627.0,53.4 L628.0,53.4 L629.0,53.4 L629.9,53.4 L630.9,53.4 L631.9,53.4 L632.8,53.4 L633.8,53.4 L634.8,53.4 L635.7,53.4 L636.7,53.4 L637.6,53.4 L638.6,53.3 L639.6,53.3 L640.5,53.3 L641.5,53.2 L642.5,53.2 L643.4,53.2 L644.4,53.1 L645.4,53.1 L646.3,53.1 L647.3,53.1 L648.2,53.1 L649.2,53.1 L650.2,53.1 L651.1,53.1 L652.1,53.1 L653.1,53.1 L654.0,53.1 L655.0,53.1 L656.0,53.1 L656.9,53.1 L657.9,53.1 L658.8,53.1 L659.8,53.2 L660.8,53.2 L661.7,53.2 L662.7,53.2 L663.7,53.3 L664.6,53.3 L665.6,53.3 L666.6,53.3 L667.5,53.4 L668.5,53.4 L669.5,53.4 L670.4,53.4 L671.4,53.4 L672.3,53.4 L673.3,53.4 L674.3,53.4 L675.2,53.4 L676.2,53.4 L677.2,53.4 L678.1,53.5 L679.1,53.5 L680.1,53.5 L681.0,53.5 L681.5,53.5" fill="none" stroke="#7e6eae" stroke-width="0.7"/>
<line x1="488.70" y1="15.60" x2="488.70" y2="53.50" stroke="#999" stroke-width="0.9"/>
<line x1="488.30" y1="53.50" x2="682.00" y2="53.50" stroke="#aaa" stroke-width="1.0"/>
<line x1="488.70" y1="53.50" x2="490.20" y2="53.50" stroke="#888" stroke-width="0.5"/>
<text x="487.6" y="55.00" font-size="4.2" font-family="Liberation Serif" fill="#222" stroke="#222" stroke-width="0.18" text-anchor="end" textLength="2.20" lengthAdjust="spacingAndGlyphs">0</text>
<line x1="488.70" y1="42.77" x2="490.20" y2="42.77" stroke="#888" stroke-width="0.5"/>
<text x="487.6" y="44.27" font-size="4.2" font-family="Liberation Serif" fill="#222" stroke="#222" stroke-width="0.18" text-anchor="end" textLength="4.40" lengthAdjust="spacingAndGlyphs">25</text>
<line x1="488.70" y1="32.05" x2="490.20" y2="32.05" stroke="#888" stroke-width="0.5"/>
<text x="487.6" y="33.55" font-size="4.2" font-family="Liberation Serif" fill="#222" stroke="#222" stroke-width="0.18" text-anchor="end" textLength="4.40" lengthAdjust="spacingAndGlyphs">50</text>
<line x1="488.70" y1="21.33" x2="490.20" y2="21.33" stroke="#888" stroke-width="0.5"/>
<text x="487.6" y="22.83" font-size="4.2" font-family="Liberation Serif" fill="#222" stroke="#222" stroke-width="0.18" text-anchor="end" textLength="4.40" lengthAdjust="spacingAndGlyphs">75</text>
<line x1="509.60" y1="52.00" x2="509.60" y2="53.50" stroke="#888" stroke-width="0.5"/>
<text x="509.60" y="58.60" font-size="4.4" font-family="Liberation Serif" fill="#222" stroke="#222" stroke-width="0.18" text-anchor="middle" textLength="6.10" lengthAdjust="spacingAndGlyphs">0.0</text>
<line x1="541.16" y1="52.00" x2="541.16" y2="53.50" stroke="#888" stroke-width="0.5"/>
<text x="541.16" y="58.60" font-size="4.4" font-family="Liberation Serif" fill="#222" stroke="#222" stroke-width="0.18" text-anchor="middle" textLength="6.10" lengthAdjust="spacingAndGlyphs">0.2</text>
<line x1="572.72" y1="52.00" x2="572.72" y2="53.50" stroke="#888" stroke-width="0.5"/>
<text x="572.72" y="58.60" font-size="4.4" font-family="Liberation Serif" fill="#222" stroke="#222" stroke-width="0.18" text-anchor="middle" textLength="6.10" lengthAdjust="spacingAndGlyphs">0.4</text>
<line x1="604.28" y1="52.00" x2="604.28" y2="53.50" stroke="#888" stroke-width="0.5"/>
<text x="604.28" y="58.60" font-size="4.4" font-family="Liberation Serif" fill="#222" stroke="#222" stroke-width="0.18" text-anchor="middle" textLength="6.10" lengthAdjust="spacingAndGlyphs">0.6</text>
<line x1="635.84" y1="52.00" x2="635.84" y2="53.50" stroke="#888" stroke-width="0.5"/>
<text x="635.84" y="58.60" font-size="4.4" font-family="Liberation Serif" fill="#222" stroke="#222" stroke-width="0.18" text-anchor="middle" textLength="6.10" lengthAdjust="spacingAndGlyphs">0.8</text>
<line x1="667.40" y1="52.00" x2="667.40" y2="53.50" stroke="#888" stroke-width="0.5"/>
<text x="667.40" y="58.60" font-size="4.4" font-family="Liberation Serif" fill="#222" stroke="#222" stroke-width="0.18" text-anchor="middle" textLength="6.10" lengthAdjust="spacingAndGlyphs">1.0</text>
<text transform="translate(479.6,34.55) rotate(-90)" font-size="4.4" font-family="Liberation Sans" fill="#222" stroke="#222" stroke-width="0.12" text-anchor="middle">Count</text>
<text x="586.00" y="65.60" font-size="7.9" font-weight="bold" font-family="Liberation Sans" fill="#111" text-anchor="middle" textLength="23.80" lengthAdjust="spacingAndGlyphs" stroke="#111" stroke-width="0.2">Baseline</text>
<line x1="515.80" y1="72.80" x2="515.80" y2="111.10" stroke="#e2e2e2" stroke-width="0.6"/>
<line x1="543.12" y1="72.80" x2="543.12" y2="111.10" stroke="#e2e2e2" stroke-width="0.6"/>
<line x1="570.44" y1="72.80" x2="570.44" y2="111.10" stroke="#e2e2e2" stroke-width="0.6"/>
<line x1="597.76" y1="72.80" x2="597.76" y2="111.10" stroke="#e2e2e2" stroke-width="0.6"/>
<line x1="625.08" y1="72.80" x2="625.08" y2="111.10" stroke="#e2e2e2" stroke-width="0.6"/>
<line x1="652.40" y1="72.80" x2="652.40" y2="111.10" stroke="#e2e2e2" stroke-width="0.6"/>
<line x1="679.72" y1="72.80" x2="679.72" y2="111.10" stroke="#e2e2e2" stroke-width="0.6"/>
<line x1="488.70" y1="99.53" x2="682.00" y2="99.53" stroke="#e2e2e2" stroke-width="0.6"/>
<line x1="488.70" y1="87.96" x2="682.00" y2="87.96" stroke="#e2e2e2" stroke-width="0.6"/>
<line x1="488.70" y1="76.39" x2="682.00" y2="76.39" stroke="#e2e2e2" stroke-width="0.6"/>
<path d="M489.2,111.1 L489.2,111.1 L490.2,111.1 L491.1,111.1 L492.1,111.1 L493.1,111.1 L494.0,111.1 L495.0,111.1 L495.9,111.1 L496.9,111.1 L497.9,111.1 L498.8,111.1 L499.8,111.1 L500.8,111.1 L501.7,111.0 L502.7,111.0 L503.7,110.8 L504.6,110.5 L505.6,110.1 L506.6,109.7 L507.5,109.3 L508.5,108.9 L509.4,108.4 L510.4,107.9 L511.4,107.4 L512.3,106.9 L513.3,106.5 L514.3,106.1 L515.2,105.8 L516.2,105.5 L517.2,105.3 L518.1,105.2 L519.1,105.2 L520.0,105.1 L521.0,105.1 L522.0,105.2 L522.9,105.4 L523.9,105.6 L524.9,105.9 L525.8,106.2 L526.8,106.7 L527.8,107.2 L528.7,107.8 L529.7,108.4 L530.6,108.8 L531.6,109.3 L532.6,109.7 L533.5,110.0 L534.5,110.2 L535.5,110.4 L536.4,110.6 L537.4,110.7 L538.4,110.7 L539.3,110.7 L540.3,110.8 L541.3,110.8 L542.2,110.8 L543.2,110.8 L544.1,110.8 L545.1,110.8 L546.1,110.8 L547.0,110.8 L548.0,110.8 L549.0,110.8 L549.9,110.8 L550.9,110.7 L551.9,110.7 L552.8,110.7 L553.8,110.7 L554.7,110.7 L555.7,110.6 L556.7,110.6 L557.6,110.6 L558.6,110.5 L559.6,110.5 L560.5,110.5 L561.5,110.4 L562.5,110.4 L563.4,110.4 L564.4,110.4 L565.3,110.4 L566.3,110.4 L567.3,110.4 L568.2,110.3 L569.2,110.3 L570.2,110.3 L571.1,110.3 L572.1,110.3 L573.1,110.3 L574.0,110.3 L575.0,110.3 L576.0,110.3 L576.9,110.3 L577.9,110.3 L578.8,110.3 L579.8,110.3 L580.8,110.3 L581.7,110.3 L582.7,110.4 L583.7,110.4 L584.6,110.4 L585.6,110.4 L586.6,110.4 L587.5,110.5 L588.5,110.5 L589.4,110.5 L590.4,110.5 L591.4,110.5 L592.3,110.5 L593.3,110.5 L594.3,110.6 L595.2,110.6 L596.2,110.6 L597.2,110.6 L598.1,110.6 L599.1,110.6 L600.0,110.6 L601.0,110.6 L602.0,110.6 L602.9,110.6 L603.9,110.6 L604.9,110.6 L605.8,110.6 L606.8,110.6 L607.8,110.6 L608.7,110.6 L609.7,110.6 L610.7,110.6 L611.6,110.6 L612.6,110.5 L613.5,110.5 L614.5,110.5 L615.5,110.5 L616.4,110.5 L617.4,110.4 L618.4,110.4 L619.3,110.4 L620.3,110.3 L621.3,110.3 L622.2,110.2 L623.2,110.2 L624.1,110.1 L625.1,110.0 L626.1,109.9 L627.0,109.8 L628.0,109.6 L629.0,109.4 L629.9,109.2 L630.9,108.9 L631.9,108.5 L632.8,108.0 L633.8,107.2 L634.8,106.2 L635.7,105.1 L636.7,103.7 L637.6,102.0 L638.6,100.0 L639.6,97.9 L640.5,95.8 L641.5,93.7 L642.5,91.6 L643.4,89.3 L644.4,86.9 L645.4,84.3 L646.3,81.8 L647.3,79.6 L648.2,77.7 L649.2,76.3 L650.2,75.6 L651.1,75.7 L652.1,76.8 L653.1,78.8 L654.0,81.4 L655.0,84.4 L656.0,87.4 L656.9,90.1 L657.9,92.5 L658.8,94.7 L659.8,96.7 L660.8,98.6 L661.7,100.5 L662.7,102.3 L663.7,103.9 L664.6,105.4 L665.6,106.7 L666.6,107.9 L667.5,109.0 L668.5,109.7 L669.5,110.1 L670.4,110.4 L671.4,110.6 L672.3,110.8 L673.3,110.9 L674.3,111.0 L675.2,111.0 L676.2,111.0 L677.2,111.0 L678.1,111.0 L679.1,111.1 L680.1,111.1 L681.0,111.1 L681.5,111.1 L681.5,111.1 Z" fill="#abb5d4" stroke="none"/>
<line x1="515.80" y1="72.80" x2="515.80" y2="111.10" stroke="#fff" stroke-width="0.6" opacity="0.3"/>
<line x1="543.12" y1="72.80" x2="543.12" y2="111.10" stroke="#fff" stroke-width="0.6" opacity="0.3"/>
<line x1="570.44" y1="72.80" x2="570.44" y2="111.10" stroke="#fff" stroke-width="0.6" opacity="0.3"/>
<line x1="597.76" y1="72.80" x2="597.76" y2="111.10" stroke="#fff" stroke-width="0.6" opacity="0.3"/>
<line x1="625.08" y1="72.80" x2="625.08" y2="111.10" stroke="#fff" stroke-width="0.6" opacity="0.3"/>
<line x1="652.40" y1="72.80" x2="652.40" y2="111.10" stroke="#fff" stroke-width="0.6" opacity="0.3"/>
<line x1="679.72" y1="72.80" x2="679.72" y2="111.10" stroke="#fff" stroke-width="0.6" opacity="0.3"/>
<line x1="488.70" y1="99.53" x2="682.00" y2="99.53" stroke="#fff" stroke-width="0.6" opacity="0.3"/>
<line x1="488.70" y1="87.96" x2="682.00" y2="87.96" stroke="#fff" stroke-width="0.6" opacity="0.3"/>
<line x1="488.70" y1="76.39" x2="682.00" y2="76.39" stroke="#fff" stroke-width="0.6" opacity="0.3"/>
<rect x="517.03" y="105.66" width="4.92" height="5.44" fill="#4b63a2"/>
<rect x="521.95" y="109.48" width="4.51" height="1.62" fill="#4b63a2"/>
<rect x="526.45" y="110.52" width="4.37" height="0.58" fill="#4b63a2"/>
<rect x="530.83" y="110.75" width="46.44" height="0.35" fill="#4b63a2"/>
<rect x="577.27" y="110.41" width="6.83" height="0.69" fill="#4b63a2"/>
<rect x="584.10" y="110.64" width="47.81" height="0.46" fill="#4b63a2"/>
<rect x="631.91" y="110.41" width="7.38" height="0.69" fill="#4b63a2"/>
<rect x="639.29" y="109.94" width="5.05" height="1.16" fill="#4b63a2"/>
<rect x="644.34" y="106.01" width="4.10" height="5.09" fill="#4b63a2"/>
<rect x="648.44" y="75.23" width="4.51" height="35.87" fill="#4b63a2"/>
<path d="M489.2,111.1 L490.2,111.1 L491.1,111.1 L492.1,111.1 L493.1,111.1 L494.0,111.1 L495.0,111.1 L495.9,111.1 L496.9,111.1 L497.9,111.1 L498.8,111.1 L499.8,111.1 L500.8,111.1 L501.7,111.0 L502.7,111.0 L503.7,110.8 L504.6,110.5 L505.6,110.1 L506.6,109.7 L507.5,109.3 L508.5,108.9 L509.4,108.4 L510.4,107.9 L511.4,107.4 L512.3,106.9 L513.3,106.5 L514.3,106.1 L515.2,105.8 L516.2,105.5 L517.2,105.3 L518.1,105.2 L519.1,105.2 L520.0,105.1 L521.0,105.1 L522.0,105.2 L522.9,105.4 L523.9,105.6 L524.9,105.9 L525.8,106.2 L526.8,106.7 L527.8,107.2 L528.7,107.8 L529.7,108.4 L530.6,108.8 L531.6,109.3 L532.6,109.7 L533.5,110.0 L534.5,110.2 L535.5,110.4 L536.4,110.6 L537.4,110.7 L538.4,110.7 L539.3,110.7 L540.3,110.8 L541.3,110.8 L542.2,110.8 L543.2,110.8 L544.1,110.8 L545.1,110.8 L546.1,110.8 L547.0,110.8 L548.0,110.8 L549.0,110.8 L549.9,110.8 L550.9,110.7 L551.9,110.7 L552.8,110.7 L553.8,110.7 L554.7,110.7 L555.7,110.6 L556.7,110.6 L557.6,110.6 L558.6,110.5 L559.6,110.5 L560.5,110.5 L561.5,110.4 L562.5,110.4 L563.4,110.4 L564.4,110.4 L565.3,110.4 L566.3,110.4 L567.3,110.4 L568.2,110.3 L569.2,110.3 L570.2,110.3 L571.1,110.3 L572.1,110.3 L573.1,110.3 L574.0,110.3 L575.0,110.3 L576.0,110.3 L576.9,110.3 L577.9,110.3 L578.8,110.3 L579.8,110.3 L580.8,110.3 L581.7,110.3 L582.7,110.4 L583.7,110.4 L584.6,110.4 L585.6,110.4 L586.6,110.4 L587.5,110.5 L588.5,110.5 L589.4,110.5 L590.4,110.5 L591.4,110.5 L592.3,110.5 L593.3,110.5 L594.3,110.6 L595.2,110.6 L596.2,110.6 L597.2,110.6 L598.1,110.6 L599.1,110.6 L600.0,110.6 L601.0,110.6 L602.0,110.6 L602.9,110.6 L603.9,110.6 L604.9,110.6 L605.8,110.6 L606.8,110.6 L607.8,110.6 L608.7,110.6 L609.7,110.6 L610.7,110.6 L611.6,110.6 L612.6,110.5 L613.5,110.5 L614.5,110.5 L615.5,110.5 L616.4,110.5 L617.4,110.4 L618.4,110.4 L619.3,110.4 L620.3,110.3 L621.3,110.3 L622.2,110.2 L623.2,110.2 L624.1,110.1 L625.1,110.0 L626.1,109.9 L627.0,109.8 L628.0,109.6 L629.0,109.4 L629.9,109.2 L630.9,108.9 L631.9,108.5 L632.8,108.0 L633.8,107.2 L634.8,106.2 L635.7,105.1 L636.7,103.7 L637.6,102.0 L638.6,100.0 L639.6,97.9 L640.5,95.8 L641.5,93.7 L642.5,91.6 L643.4,89.3 L644.4,86.9 L645.4,84.3 L646.3,81.8 L647.3,79.6 L648.2,77.7 L649.2,76.3 L650.2,75.6 L651.1,75.7 L652.1,76.8 L653.1,78.8 L654.0,81.4 L655.0,84.4 L656.0,87.4 L656.9,90.1 L657.9,92.5 L658.8,94.7 L659.8,96.7 L660.8,98.6 L661.7,100.5 L662.7,102.3 L663.7,103.9 L664.6,105.4 L665.6,106.7 L666.6,107.9 L667.5,109.0 L668.5,109.7 L669.5,110.1 L670.4,110.4 L671.4,110.6 L672.3,110.8 L673.3,110.9 L674.3,111.0 L675.2,111.0 L676.2,111.0 L677.2,111.0 L678.1,111.0 L679.1,111.1 L680.1,111.1 L681.0,111.1 L681.5,111.1" fill="none" stroke="#6a7cb2" stroke-width="0.7"/>
<line x1="488.70" y1="72.80" x2="488.70" y2="111.10" stroke="#999" stroke-width="0.9"/>
<line x1="488.30" y1="111.10" x2="682.00" y2="111.10" stroke="#aaa" stroke-width="1.0"/>
<line x1="488.70" y1="111.10" x2="490.20" y2="111.10" stroke="#888" stroke-width="0.5"/>
<text x="487.6" y="112.60" font-size="4.2" font-family="Liberation Serif" fill="#222" stroke="#222" stroke-width="0.18" text-anchor="end" textLength="2.25" lengthAdjust="spacingAndGlyphs">0</text>
<line x1="488.70" y1="99.53" x2="490.20" y2="99.53" stroke="#888" stroke-width="0.5"/>
<text x="487.6" y="101.03" font-size="4.2" font-family="Liberation Serif" fill="#222" stroke="#222" stroke-width="0.18" text-anchor="end" textLength="6.75" lengthAdjust="spacingAndGlyphs">100</text>
<line x1="488.70" y1="87.96" x2="490.20" y2="87.96" stroke="#888" stroke-width="0.5"/>
<text x="487.6" y="89.46" font-size="4.2" font-family="Liberation Serif" fill="#222" stroke="#222" stroke-width="0.18" text-anchor="end" textLength="6.75" lengthAdjust="spacingAndGlyphs">200</text>
<line x1="488.70" y1="76.39" x2="490.20" y2="76.39" stroke="#888" stroke-width="0.5"/>
<text x="487.6" y="77.89" font-size="4.2" font-family="Liberation Serif" fill="#222" stroke="#222" stroke-width="0.18" text-anchor="end" textLength="6.75" lengthAdjust="spacingAndGlyphs">300</text>
<line x1="515.80" y1="109.60" x2="515.80" y2="111.10" stroke="#888" stroke-width="0.5"/>
<text x="515.80" y="116.00" font-size="4.2" font-family="Liberation Serif" fill="#222" stroke="#222" stroke-width="0.18" text-anchor="middle" textLength="6.40" lengthAdjust="spacingAndGlyphs">0.0</text>
<line x1="543.12" y1="109.60" x2="543.12" y2="111.10" stroke="#888" stroke-width="0.5"/>
<text x="543.12" y="116.00" font-size="4.2" font-family="Liberation Serif" fill="#222" stroke="#222" stroke-width="0.18" text-anchor="middle" textLength="6.40" lengthAdjust="spacingAndGlyphs">0.2</text>
<line x1="570.44" y1="109.60" x2="570.44" y2="111.10" stroke="#888" stroke-width="0.5"/>
<text x="570.44" y="116.00" font-size="4.2" font-family="Liberation Serif" fill="#222" stroke="#222" stroke-width="0.18" text-anchor="middle" textLength="6.40" lengthAdjust="spacingAndGlyphs">0.4</text>
<line x1="597.76" y1="109.60" x2="597.76" y2="111.10" stroke="#888" stroke-width="0.5"/>
<text x="597.76" y="116.00" font-size="4.2" font-family="Liberation Serif" fill="#222" stroke="#222" stroke-width="0.18" text-anchor="middle" textLength="6.40" lengthAdjust="spacingAndGlyphs">0.6</text>
<line x1="625.08" y1="109.60" x2="625.08" y2="111.10" stroke="#888" stroke-width="0.5"/>
<text x="625.08" y="116.00" font-size="4.2" font-family="Liberation Serif" fill="#222" stroke="#222" stroke-width="0.18" text-anchor="middle" textLength="6.40" lengthAdjust="spacingAndGlyphs">0.8</text>
<line x1="652.40" y1="109.60" x2="652.40" y2="111.10" stroke="#888" stroke-width="0.5"/>
<text x="652.40" y="116.00" font-size="4.2" font-family="Liberation Serif" fill="#222" stroke="#222" stroke-width="0.18" text-anchor="middle" textLength="6.40" lengthAdjust="spacingAndGlyphs">1.0</text>
<line x1="679.72" y1="109.60" x2="679.72" y2="111.10" stroke="#888" stroke-width="0.5"/>
<text x="679.72" y="116.00" font-size="4.2" font-family="Liberation Serif" fill="#222" stroke="#222" stroke-width="0.18" text-anchor="middle" textLength="6.40" lengthAdjust="spacingAndGlyphs">1.2</text>
<text transform="translate(478.2,91.95) rotate(-90)" font-size="4.5" font-family="Liberation Sans" fill="#222" stroke="#222" stroke-width="0.12" text-anchor="middle">Count</text>
<text x="586.00" y="124.90" font-size="7.9" font-weight="bold" font-family="Liberation Sans" fill="#111" text-anchor="middle" textLength="20.40" lengthAdjust="spacingAndGlyphs" stroke="#111" stroke-width="0.2">Pre-PCI</text>
<line x1="493.40" y1="130.60" x2="493.40" y2="168.40" stroke="#e2e2e2" stroke-width="0.6"/>
<line x1="519.50" y1="130.60" x2="519.50" y2="168.40" stroke="#e2e2e2" stroke-width="0.6"/>
<line x1="545.60" y1="130.60" x2="545.60" y2="168.40" stroke="#e2e2e2" stroke-width="0.6"/>
<line x1="571.70" y1="130.60" x2="571.70" y2="168.40" stroke="#e2e2e2" stroke-width="0.6"/>
<line x1="597.80" y1="130.60" x2="597.80" y2="168.40" stroke="#e2e2e2" stroke-width="0.6"/>
<line x1="623.90" y1="130.60" x2="623.90" y2="168.40" stroke="#e2e2e2" stroke-width="0.6"/>
<line x1="650.00" y1="130.60" x2="650.00" y2="168.40" stroke="#e2e2e2" stroke-width="0.6"/>
<line x1="676.10" y1="130.60" x2="676.10" y2="168.40" stroke="#e2e2e2" stroke-width="0.6"/>
<line x1="488.70" y1="156.95" x2="682.00" y2="156.95" stroke="#e2e2e2" stroke-width="0.6"/>
<line x1="488.70" y1="145.50" x2="682.00" y2="145.50" stroke="#e2e2e2" stroke-width="0.6"/>
<line x1="488.70" y1="134.05" x2="682.00" y2="134.05" stroke="#e2e2e2" stroke-width="0.6"/>
<path d="M489.2,168.4 L489.2,168.4 L490.2,168.4 L491.1,168.4 L492.1,168.4 L493.1,168.4 L494.0,168.3 L495.0,168.3 L495.9,168.3 L496.9,168.2 L497.9,168.1 L498.8,168.0 L499.8,167.9 L500.8,167.7 L501.7,167.5 L502.7,167.2 L503.7,166.9 L504.6,166.5 L505.6,166.1 L506.6,165.5 L507.5,164.9 L508.5,164.1 L509.4,163.1 L510.4,162.1 L511.4,160.8 L512.3,159.1 L513.3,157.1 L514.3,154.7 L515.2,152.2 L516.2,149.8 L517.2,147.4 L518.1,145.0 L519.1,142.9 L520.0,141.2 L521.0,139.7 L522.0,138.4 L522.9,137.3 L523.9,136.5 L524.9,136.3 L525.8,136.6 L526.8,137.5 L527.8,138.7 L528.7,140.2 L529.7,141.7 L530.6,143.4 L531.6,145.3 L532.6,147.3 L533.5,149.4 L534.5,151.2 L535.5,152.7 L536.4,154.2 L537.4,155.5 L538.4,156.8 L539.3,157.9 L540.3,158.8 L541.3,159.6 L542.2,160.3 L543.2,160.9 L544.1,161.4 L545.1,161.9 L546.1,162.3 L547.0,162.7 L548.0,163.0 L549.0,163.3 L549.9,163.6 L550.9,163.9 L551.9,164.2 L552.8,164.4 L553.8,164.6 L554.7,164.8 L555.7,165.0 L556.7,165.2 L557.6,165.4 L558.6,165.5 L559.6,165.6 L560.5,165.7 L561.5,165.8 L562.5,165.9 L563.4,166.0 L564.4,166.1 L565.3,166.2 L566.3,166.3 L567.3,166.3 L568.2,166.3 L569.2,166.4 L570.2,166.4 L571.1,166.4 L572.1,166.4 L573.1,166.5 L574.0,166.5 L575.0,166.5 L576.0,166.5 L576.9,166.5 L577.9,166.5 L578.8,166.5 L579.8,166.5 L580.8,166.6 L581.7,166.6 L582.7,166.6 L583.7,166.6 L584.6,166.6 L585.6,166.6 L586.6,166.6 L587.5,166.6 L588.5,166.6 L589.4,166.6 L590.4,166.6 L591.4,166.6 L592.3,166.6 L593.3,166.6 L594.3,166.6 L595.2,166.6 L596.2,166.6 L597.2,166.6 L598.1,166.6 L599.1,166.5 L600.0,166.5 L601.0,166.4 L602.0,166.4 L602.9,166.3 L603.9,166.1 L604.9,166.0 L605.8,165.9 L606.8,165.8 L607.8,165.6 L608.7,165.5 L609.7,165.4 L610.7,165.2 L611.6,165.1 L612.6,165.0 L613.5,164.9 L614.5,164.7 L615.5,164.6 L616.4,164.5 L617.4,164.3 L618.4,164.2 L619.3,164.0 L620.3,163.8 L621.3,163.6 L622.2,163.4 L623.2,163.1 L624.1,162.8 L625.1,162.4 L626.1,161.8 L627.0,161.1 L628.0,160.3 L629.0,159.5 L629.9,158.6 L630.9,157.6 L631.9,156.4 L632.8,155.1 L633.8,153.6 L634.8,152.1 L635.7,150.3 L636.7,148.3 L637.6,146.0 L638.6,143.6 L639.6,141.3 L640.5,139.3 L641.5,137.6 L642.5,136.0 L643.4,134.5 L644.4,133.4 L645.4,132.7 L646.3,132.8 L647.3,133.5 L648.2,134.7 L649.2,136.2 L650.2,137.9 L651.1,140.1 L652.1,142.6 L653.1,145.5 L654.0,148.3 L655.0,150.9 L656.0,153.3 L656.9,155.7 L657.9,157.9 L658.8,159.8 L659.8,161.5 L660.8,163.0 L661.7,164.3 L662.7,165.3 L663.7,166.0 L664.6,166.6 L665.6,167.1 L666.6,167.5 L667.5,167.8 L668.5,168.0 L669.5,168.1 L670.4,168.1 L671.4,168.2 L672.3,168.3 L673.3,168.3 L674.3,168.4 L675.2,168.4 L676.2,168.4 L677.2,168.4 L678.1,168.4 L679.1,168.4 L680.1,168.4 L681.0,168.4 L681.5,168.4 L681.5,168.4 Z" fill="#a8c9d5" stroke="none"/>
<line x1="493.40" y1="130.60" x2="493.40" y2="168.40" stroke="#fff" stroke-width="0.6" opacity="0.3"/>
<line x1="519.50" y1="130.60" x2="519.50" y2="168.40" stroke="#fff" stroke-width="0.6" opacity="0.3"/>
<line x1="545.60" y1="130.60" x2="545.60" y2="168.40" stroke="#fff" stroke-width="0.6" opacity="0.3"/>
<line x1="571.70" y1="130.60" x2="571.70" y2="168.40" stroke="#fff" stroke-width="0.6" opacity="0.3"/>
<line x1="597.80" y1="130.60" x2="597.80" y2="168.40" stroke="#fff" stroke-width="0.6" opacity="0.3"/>
<line x1="623.90" y1="130.60" x2="623.90" y2="168.40" stroke="#fff" stroke-width="0.6" opacity="0.3"/>
<line x1="650.00" y1="130.60" x2="650.00" y2="168.40" stroke="#fff" stroke-width="0.6" opacity="0.3"/>
<line x1="676.10" y1="130.60" x2="676.10" y2="168.40" stroke="#fff" stroke-width="0.6" opacity="0.3"/>
<line x1="488.70" y1="156.95" x2="682.00" y2="156.95" stroke="#fff" stroke-width="0.6" opacity="0.3"/>
<line x1="488.70" y1="145.50" x2="682.00" y2="145.50" stroke="#fff" stroke-width="0.6" opacity="0.3"/>
<line x1="488.70" y1="134.05" x2="682.00" y2="134.05" stroke="#fff" stroke-width="0.6" opacity="0.3"/>
<rect x="521.59" y="137.71" width="4.44" height="30.69" fill="#4a87a1"/>
<rect x="526.02" y="161.07" width="3.92" height="7.33" fill="#4a87a1"/>
<rect x="529.94" y="164.97" width="4.18" height="3.44" fill="#4a87a1"/>
<rect x="534.12" y="166.11" width="4.96" height="2.29" fill="#4a87a1"/>
<rect x="539.08" y="167.03" width="13.05" height="1.37" fill="#4a87a1"/>
<rect x="552.12" y="167.48" width="45.67" height="0.92" fill="#4a87a1"/>
<rect x="597.80" y="167.25" width="17.23" height="1.15" fill="#4a87a1"/>
<rect x="615.03" y="167.25" width="12.27" height="1.15" fill="#4a87a1"/>
<rect x="627.29" y="165.88" width="4.83" height="2.52" fill="#4a87a1"/>
<rect x="632.12" y="166.57" width="3.78" height="1.83" fill="#4a87a1"/>
<rect x="635.91" y="165.19" width="4.18" height="3.21" fill="#4a87a1"/>
<rect x="640.08" y="162.45" width="4.18" height="5.95" fill="#4a87a1"/>
<rect x="644.26" y="131.99" width="4.57" height="36.41" fill="#4a87a1"/>
<path d="M489.2,168.4 L490.2,168.4 L491.1,168.4 L492.1,168.4 L493.1,168.4 L494.0,168.3 L495.0,168.3 L495.9,168.3 L496.9,168.2 L497.9,168.1 L498.8,168.0 L499.8,167.9 L500.8,167.7 L501.7,167.5 L502.7,167.2 L503.7,166.9 L504.6,166.5 L505.6,166.1 L506.6,165.5 L507.5,164.9 L508.5,164.1 L509.4,163.1 L510.4,162.1 L511.4,160.8 L512.3,159.1 L513.3,157.1 L514.3,154.7 L515.2,152.2 L516.2,149.8 L517.2,147.4 L518.1,145.0 L519.1,142.9 L520.0,141.2 L521.0,139.7 L522.0,138.4 L522.9,137.3 L523.9,136.5 L524.9,136.3 L525.8,136.6 L526.8,137.5 L527.8,138.7 L528.7,140.2 L529.7,141.7 L530.6,143.4 L531.6,145.3 L532.6,147.3 L533.5,149.4 L534.5,151.2 L535.5,152.7 L536.4,154.2 L537.4,155.5 L538.4,156.8 L539.3,157.9 L540.3,158.8 L541.3,159.6 L542.2,160.3 L543.2,160.9 L544.1,161.4 L545.1,161.9 L546.1,162.3 L547.0,162.7 L548.0,163.0 L549.0,163.3 L549.9,163.6 L550.9,163.9 L551.9,164.2 L552.8,164.4 L553.8,164.6 L554.7,164.8 L555.7,165.0 L556.7,165.2 L557.6,165.4 L558.6,165.5 L559.6,165.6 L560.5,165.7 L561.5,165.8 L562.5,165.9 L563.4,166.0 L564.4,166.1 L565.3,166.2 L566.3,166.3 L567.3,166.3 L568.2,166.3 L569.2,166.4 L570.2,166.4 L571.1,166.4 L572.1,166.4 L573.1,166.5 L574.0,166.5 L575.0,166.5 L576.0,166.5 L576.9,166.5 L577.9,166.5 L578.8,166.5 L579.8,166.5 L580.8,166.6 L581.7,166.6 L582.7,166.6 L583.7,166.6 L584.6,166.6 L585.6,166.6 L586.6,166.6 L587.5,166.6 L588.5,166.6 L589.4,166.6 L590.4,166.6 L591.4,166.6 L592.3,166.6 L593.3,166.6 L594.3,166.6 L595.2,166.6 L596.2,166.6 L597.2,166.6 L598.1,166.6 L599.1,166.5 L600.0,166.5 L601.0,166.4 L602.0,166.4 L602.9,166.3 L603.9,166.1 L604.9,166.0 L605.8,165.9 L606.8,165.8 L607.8,165.6 L608.7,165.5 L609.7,165.4 L610.7,165.2 L611.6,165.1 L612.6,165.0 L613.5,164.9 L614.5,164.7 L615.5,164.6 L616.4,164.5 L617.4,164.3 L618.4,164.2 L619.3,164.0 L620.3,163.8 L621.3,163.6 L622.2,163.4 L623.2,163.1 L624.1,162.8 L625.1,162.4 L626.1,161.8 L627.0,161.1 L628.0,160.3 L629.0,159.5 L629.9,158.6 L630.9,157.6 L631.9,156.4 L632.8,155.1 L633.8,153.6 L634.8,152.1 L635.7,150.3 L636.7,148.3 L637.6,146.0 L638.6,143.6 L639.6,141.3 L640.5,139.3 L641.5,137.6 L642.5,136.0 L643.4,134.5 L644.4,133.4 L645.4,132.7 L646.3,132.8 L647.3,133.5 L648.2,134.7 L649.2,136.2 L650.2,137.9 L651.1,140.1 L652.1,142.6 L653.1,145.5 L654.0,148.3 L655.0,150.9 L656.0,153.3 L656.9,155.7 L657.9,157.9 L658.8,159.8 L659.8,161.5 L660.8,163.0 L661.7,164.3 L662.7,165.3 L663.7,166.0 L664.6,166.6 L665.6,167.1 L666.6,167.5 L667.5,167.8 L668.5,168.0 L669.5,168.1 L670.4,168.1 L671.4,168.2 L672.3,168.3 L673.3,168.3 L674.3,168.4 L675.2,168.4 L676.2,168.4 L677.2,168.4 L678.1,168.4 L679.1,168.4 L680.1,168.4 L681.0,168.4 L681.5,168.4" fill="none" stroke="#6299b0" stroke-width="0.7"/>
<line x1="488.70" y1="130.60" x2="488.70" y2="168.40" stroke="#999" stroke-width="0.9"/>
<line x1="488.30" y1="168.40" x2="682.00" y2="168.40" stroke="#aaa" stroke-width="1.0"/>
<line x1="488.70" y1="168.40" x2="490.20" y2="168.40" stroke="#888" stroke-width="0.5"/>
<text x="487.6" y="169.90" font-size="4.2" font-family="Liberation Serif" fill="#222" stroke="#222" stroke-width="0.18" text-anchor="end" textLength="2.25" lengthAdjust="spacingAndGlyphs">0</text>
<line x1="488.70" y1="156.95" x2="490.20" y2="156.95" stroke="#888" stroke-width="0.5"/>
<text x="487.6" y="158.45" font-size="4.2" font-family="Liberation Serif" fill="#222" stroke="#222" stroke-width="0.18" text-anchor="end" textLength="4.50" lengthAdjust="spacingAndGlyphs">50</text>
<line x1="488.70" y1="145.50" x2="490.20" y2="145.50" stroke="#888" stroke-width="0.5"/>
<text x="487.6" y="147.00" font-size="4.2" font-family="Liberation Serif" fill="#222" stroke="#222" stroke-width="0.18" text-anchor="end" textLength="6.75" lengthAdjust="spacingAndGlyphs">100</text>
<line x1="488.70" y1="134.05" x2="490.20" y2="134.05" stroke="#888" stroke-width="0.5"/>
<text x="487.6" y="135.55" font-size="4.2" font-family="Liberation Serif" fill="#222" stroke="#222" stroke-width="0.18" text-anchor="end" textLength="6.75" lengthAdjust="spacingAndGlyphs">150</text>
<line x1="493.40" y1="166.90" x2="493.40" y2="168.40" stroke="#888" stroke-width="0.5"/>
<text x="493.40" y="173.30" font-size="4.2" font-family="Liberation Serif" fill="#222" stroke="#222" stroke-width="0.18" text-anchor="middle" textLength="8.60" lengthAdjust="spacingAndGlyphs">−0.2</text>
<line x1="519.50" y1="166.90" x2="519.50" y2="168.40" stroke="#888" stroke-width="0.5"/>
<text x="519.50" y="173.30" font-size="4.2" font-family="Liberation Serif" fill="#222" stroke="#222" stroke-width="0.18" text-anchor="middle" textLength="6.40" lengthAdjust="spacingAndGlyphs">0.0</text>
<line x1="545.60" y1="166.90" x2="545.60" y2="168.40" stroke="#888" stroke-width="0.5"/>
<text x="545.60" y="173.30" font-size="4.2" font-family="Liberation Serif" fill="#222" stroke="#222" stroke-width="0.18" text-anchor="middle" textLength="6.40" lengthAdjust="spacingAndGlyphs">0.2</text>
<line x1="571.70" y1="166.90" x2="571.70" y2="168.40" stroke="#888" stroke-width="0.5"/>
<text x="571.70" y="173.30" font-size="4.2" font-family="Liberation Serif" fill="#222" stroke="#222" stroke-width="0.18" text-anchor="middle" textLength="6.40" lengthAdjust="spacingAndGlyphs">0.4</text>
<line x1="597.80" y1="166.90" x2="597.80" y2="168.40" stroke="#888" stroke-width="0.5"/>
<text x="597.80" y="173.30" font-size="4.2" font-family="Liberation Serif" fill="#222" stroke="#222" stroke-width="0.18" text-anchor="middle" textLength="6.40" lengthAdjust="spacingAndGlyphs">0.6</text>
<line x1="623.90" y1="166.90" x2="623.90" y2="168.40" stroke="#888" stroke-width="0.5"/>
<text x="623.90" y="173.30" font-size="4.2" font-family="Liberation Serif" fill="#222" stroke="#222" stroke-width="0.18" text-anchor="middle" textLength="6.40" lengthAdjust="spacingAndGlyphs">0.8</text>
<line x1="650.00" y1="166.90" x2="650.00" y2="168.40" stroke="#888" stroke-width="0.5"/>
<text x="650.00" y="173.30" font-size="4.2" font-family="Liberation Serif" fill="#222" stroke="#222" stroke-width="0.18" text-anchor="middle" textLength="6.40" lengthAdjust="spacingAndGlyphs">1.0</text>
<line x1="676.10" y1="166.90" x2="676.10" y2="168.40" stroke="#888" stroke-width="0.5"/>
<text x="676.10" y="173.30" font-size="4.2" font-family="Liberation Serif" fill="#222" stroke="#222" stroke-width="0.18" text-anchor="middle" textLength="6.40" lengthAdjust="spacingAndGlyphs">1.2</text>
<text transform="translate(478.2,149.50) rotate(-90)" font-size="4.5" font-family="Liberation Sans" fill="#222" stroke="#222" stroke-width="0.12" text-anchor="middle">Count</text>
<text x="586.00" y="182.20" font-size="7.9" font-weight="bold" font-family="Liberation Sans" fill="#111" text-anchor="middle" textLength="54.00" lengthAdjust="spacingAndGlyphs" stroke="#111" stroke-width="0.2">Immediate Post-PCI</text>
<line x1="492.28" y1="188.10" x2="492.28" y2="226.10" stroke="#e2e2e2" stroke-width="0.6"/>
<line x1="518.60" y1="188.10" x2="518.60" y2="226.10" stroke="#e2e2e2" stroke-width="0.6"/>
<line x1="544.92" y1="188.10" x2="544.92" y2="226.10" stroke="#e2e2e2" stroke-width="0.6"/>
<line x1="571.24" y1="188.10" x2="571.24" y2="226.10" stroke="#e2e2e2" stroke-width="0.6"/>
<line x1="597.56" y1="188.10" x2="597.56" y2="226.10" stroke="#e2e2e2" stroke-width="0.6"/>
<line x1="623.88" y1="188.10" x2="623.88" y2="226.10" stroke="#e2e2e2" stroke-width="0.6"/>
<line x1="650.20" y1="188.10" x2="650.20" y2="226.10" stroke="#e2e2e2" stroke-width="0.6"/>
<line x1="676.52" y1="188.10" x2="676.52" y2="226.10" stroke="#e2e2e2" stroke-width="0.6"/>
<line x1="488.70" y1="215.85" x2="682.00" y2="215.85" stroke="#e2e2e2" stroke-width="0.6"/>
<line x1="488.70" y1="205.60" x2="682.00" y2="205.60" stroke="#e2e2e2" stroke-width="0.6"/>
<line x1="488.70" y1="195.35" x2="682.00" y2="195.35" stroke="#e2e2e2" stroke-width="0.6"/>
<path d="M489.2,226.1 L489.2,226.1 L490.2,226.1 L491.1,226.1 L492.1,226.1 L493.1,226.1 L494.0,226.1 L495.0,226.1 L495.9,226.0 L496.9,226.0 L497.9,226.0 L498.8,225.9 L499.8,225.9 L500.8,225.7 L501.7,225.4 L502.7,225.0 L503.7,224.5 L504.6,223.9 L505.6,223.3 L506.6,222.5 L507.5,221.6 L508.5,220.5 L509.4,219.3 L510.4,217.9 L511.4,216.4 L512.3,214.7 L513.3,212.6 L514.3,210.4 L515.2,207.9 L516.2,205.2 L517.2,202.2 L518.1,198.8 L519.1,195.8 L520.0,193.5 L521.0,191.9 L522.0,190.8 L522.9,190.4 L523.9,190.8 L524.9,191.5 L525.8,192.6 L526.8,193.8 L527.8,195.6 L528.7,197.8 L529.7,200.2 L530.6,202.7 L531.6,205.0 L532.6,207.1 L533.5,209.2 L534.5,211.1 L535.5,212.9 L536.4,214.5 L537.4,215.9 L538.4,217.0 L539.3,218.0 L540.3,218.9 L541.3,219.7 L542.2,220.3 L543.2,220.8 L544.1,221.3 L545.1,221.7 L546.1,222.0 L547.0,222.2 L548.0,222.4 L549.0,222.5 L549.9,222.6 L550.9,222.8 L551.9,222.9 L552.8,223.0 L553.8,223.1 L554.7,223.1 L555.7,223.2 L556.7,223.2 L557.6,223.2 L558.6,223.2 L559.6,223.2 L560.5,223.2 L561.5,223.1 L562.5,223.0 L563.4,223.0 L564.4,222.9 L565.3,222.8 L566.3,222.7 L567.3,222.6 L568.2,222.5 L569.2,222.3 L570.2,222.2 L571.1,222.1 L572.1,222.0 L573.1,221.8 L574.0,221.6 L575.0,221.4 L576.0,221.2 L576.9,220.9 L577.9,220.7 L578.8,220.5 L579.8,220.3 L580.8,220.1 L581.7,220.0 L582.7,220.0 L583.7,220.0 L584.6,220.0 L585.6,220.2 L586.6,220.3 L587.5,220.5 L588.5,220.7 L589.4,220.9 L590.4,221.2 L591.4,221.4 L592.3,221.6 L593.3,221.9 L594.3,222.2 L595.2,222.5 L596.2,222.8 L597.2,223.0 L598.1,223.1 L599.1,223.2 L600.0,223.2 L601.0,223.3 L602.0,223.3 L602.9,223.4 L603.9,223.4 L604.9,223.4 L605.8,223.4 L606.8,223.4 L607.8,223.4 L608.7,223.4 L609.7,223.3 L610.7,223.3 L611.6,223.2 L612.6,223.2 L613.5,223.0 L614.5,222.9 L615.5,222.7 L616.4,222.4 L617.4,222.2 L618.4,221.9 L619.3,221.7 L620.3,221.5 L621.3,221.4 L622.2,221.3 L623.2,221.1 L624.1,220.9 L625.1,220.5 L626.1,219.9 L627.0,219.2 L628.0,218.5 L629.0,217.6 L629.9,216.6 L630.9,215.5 L631.9,214.2 L632.8,212.7 L633.8,211.0 L634.8,209.3 L635.7,207.2 L636.7,204.9 L637.6,202.6 L638.6,200.7 L639.6,199.4 L640.5,198.5 L641.5,197.8 L642.5,197.3 L643.4,197.0 L644.4,196.8 L645.4,196.9 L646.3,197.2 L647.3,197.6 L648.2,198.1 L649.2,198.8 L650.2,199.5 L651.1,200.7 L652.1,202.4 L653.1,204.4 L654.0,206.6 L655.0,208.7 L656.0,210.7 L656.9,212.7 L657.9,214.7 L658.8,216.6 L659.8,218.3 L660.8,219.8 L661.7,221.2 L662.7,222.5 L663.7,223.6 L664.6,224.4 L665.6,224.9 L666.6,225.4 L667.5,225.7 L668.5,226.0 L669.5,226.1 L670.4,226.1 L671.4,226.1 L672.3,226.1 L673.3,226.1 L674.3,226.1 L675.2,226.1 L676.2,226.1 L677.2,226.1 L678.1,226.1 L679.1,226.1 L680.1,226.1 L681.0,226.1 L681.5,226.1 L681.5,226.1 Z" fill="#98d2c9" stroke="none"/>
<line x1="492.28" y1="188.10" x2="492.28" y2="226.10" stroke="#fff" stroke-width="0.6" opacity="0.3"/>
<line x1="518.60" y1="188.10" x2="518.60" y2="226.10" stroke="#fff" stroke-width="0.6" opacity="0.3"/>
<line x1="544.92" y1="188.10" x2="544.92" y2="226.10" stroke="#fff" stroke-width="0.6" opacity="0.3"/>
<line x1="571.24" y1="188.10" x2="571.24" y2="226.10" stroke="#fff" stroke-width="0.6" opacity="0.3"/>
<line x1="597.56" y1="188.10" x2="597.56" y2="226.10" stroke="#fff" stroke-width="0.6" opacity="0.3"/>
<line x1="623.88" y1="188.10" x2="623.88" y2="226.10" stroke="#fff" stroke-width="0.6" opacity="0.3"/>
<line x1="650.20" y1="188.10" x2="650.20" y2="226.10" stroke="#fff" stroke-width="0.6" opacity="0.3"/>
<line x1="676.52" y1="188.10" x2="676.52" y2="226.10" stroke="#fff" stroke-width="0.6" opacity="0.3"/>
<line x1="488.70" y1="215.85" x2="682.00" y2="215.85" stroke="#fff" stroke-width="0.6" opacity="0.3"/>
<line x1="488.70" y1="205.60" x2="682.00" y2="205.60" stroke="#fff" stroke-width="0.6" opacity="0.3"/>
<line x1="488.70" y1="195.35" x2="682.00" y2="195.35" stroke="#fff" stroke-width="0.6" opacity="0.3"/>
<rect x="519.78" y="189.81" width="5.00" height="36.28" fill="#33a093"/>
<rect x="524.79" y="217.08" width="4.47" height="9.02" fill="#33a093"/>
<rect x="529.26" y="222.10" width="4.61" height="4.00" fill="#33a093"/>
<rect x="533.87" y="224.05" width="5.13" height="2.05" fill="#33a093"/>
<rect x="539.00" y="224.87" width="19.08" height="1.23" fill="#33a093"/>
<rect x="558.08" y="224.87" width="19.74" height="1.23" fill="#33a093"/>
<rect x="577.82" y="223.03" width="13.16" height="3.07" fill="#33a093"/>
<rect x="590.98" y="225.07" width="26.32" height="1.02" fill="#33a093"/>
<rect x="617.30" y="224.87" width="6.58" height="1.23" fill="#33a093"/>
<rect x="623.88" y="224.05" width="8.42" height="2.05" fill="#33a093"/>
<rect x="632.30" y="222.10" width="4.61" height="4.00" fill="#33a093"/>
<rect x="636.91" y="219.95" width="4.34" height="6.15" fill="#33a093"/>
<rect x="641.25" y="217.08" width="3.95" height="9.02" fill="#33a093"/>
<rect x="645.20" y="203.14" width="4.87" height="22.96" fill="#33a093"/>
<path d="M489.2,226.1 L490.2,226.1 L491.1,226.1 L492.1,226.1 L493.1,226.1 L494.0,226.1 L495.0,226.1 L495.9,226.0 L496.9,226.0 L497.9,226.0 L498.8,225.9 L499.8,225.9 L500.8,225.7 L501.7,225.4 L502.7,225.0 L503.7,224.5 L504.6,223.9 L505.6,223.3 L506.6,222.5 L507.5,221.6 L508.5,220.5 L509.4,219.3 L510.4,217.9 L511.4,216.4 L512.3,214.7 L513.3,212.6 L514.3,210.4 L515.2,207.9 L516.2,205.2 L517.2,202.2 L518.1,198.8 L519.1,195.8 L520.0,193.5 L521.0,191.9 L522.0,190.8 L522.9,190.4 L523.9,190.8 L524.9,191.5 L525.8,192.6 L526.8,193.8 L527.8,195.6 L528.7,197.8 L529.7,200.2 L530.6,202.7 L531.6,205.0 L532.6,207.1 L533.5,209.2 L534.5,211.1 L535.5,212.9 L536.4,214.5 L537.4,215.9 L538.4,217.0 L539.3,218.0 L540.3,218.9 L541.3,219.7 L542.2,220.3 L543.2,220.8 L544.1,221.3 L545.1,221.7 L546.1,222.0 L547.0,222.2 L548.0,222.4 L549.0,222.5 L549.9,222.6 L550.9,222.8 L551.9,222.9 L552.8,223.0 L553.8,223.1 L554.7,223.1 L555.7,223.2 L556.7,223.2 L557.6,223.2 L558.6,223.2 L559.6,223.2 L560.5,223.2 L561.5,223.1 L562.5,223.0 L563.4,223.0 L564.4,222.9 L565.3,222.8 L566.3,222.7 L567.3,222.6 L568.2,222.5 L569.2,222.3 L570.2,222.2 L571.1,222.1 L572.1,222.0 L573.1,221.8 L574.0,221.6 L575.0,221.4 L576.0,221.2 L576.9,220.9 L577.9,220.7 L578.8,220.5 L579.8,220.3 L580.8,220.1 L581.7,220.0 L582.7,220.0 L583.7,220.0 L584.6,220.0 L585.6,220.2 L586.6,220.3 L587.5,220.5 L588.5,220.7 L589.4,220.9 L590.4,221.2 L591.4,221.4 L592.3,221.6 L593.3,221.9 L594.3,222.2 L595.2,222.5 L596.2,222.8 L597.2,223.0 L598.1,223.1 L599.1,223.2 L600.0,223.2 L601.0,223.3 L602.0,223.3 L602.9,223.4 L603.9,223.4 L604.9,223.4 L605.8,223.4 L606.8,223.4 L607.8,223.4 L608.7,223.4 L609.7,223.3 L610.7,223.3 L611.6,223.2 L612.6,223.2 L613.5,223.0 L614.5,222.9 L615.5,222.7 L616.4,222.4 L617.4,222.2 L618.4,221.9 L619.3,221.7 L620.3,221.5 L621.3,221.4 L622.2,221.3 L623.2,221.1 L624.1,220.9 L625.1,220.5 L626.1,219.9 L627.0,219.2 L628.0,218.5 L629.0,217.6 L629.9,216.6 L630.9,215.5 L631.9,214.2 L632.8,212.7 L633.8,211.0 L634.8,209.3 L635.7,207.2 L636.7,204.9 L637.6,202.6 L638.6,200.7 L639.6,199.4 L640.5,198.5 L641.5,197.8 L642.5,197.3 L643.4,197.0 L644.4,196.8 L645.4,196.9 L646.3,197.2 L647.3,197.6 L648.2,198.1 L649.2,198.8 L650.2,199.5 L651.1,200.7 L652.1,202.4 L653.1,204.4 L654.0,206.6 L655.0,208.7 L656.0,210.7 L656.9,212.7 L657.9,214.7 L658.8,216.6 L659.8,218.3 L660.8,219.8 L661.7,221.2 L662.7,222.5 L663.7,223.6 L664.6,224.4 L665.6,224.9 L666.6,225.4 L667.5,225.7 L668.5,226.0 L669.5,226.1 L670.4,226.1 L671.4,226.1 L672.3,226.1 L673.3,226.1 L674.3,226.1 L675.2,226.1 L676.2,226.1 L677.2,226.1 L678.1,226.1 L679.1,226.1 L680.1,226.1 L681.0,226.1 L681.5,226.1" fill="none" stroke="#52aca1" stroke-width="0.7"/>
<line x1="488.70" y1="188.10" x2="488.70" y2="226.10" stroke="#999" stroke-width="0.9"/>
<line x1="488.30" y1="226.10" x2="682.00" y2="226.10" stroke="#aaa" stroke-width="1.0"/>
<line x1="488.70" y1="226.10" x2="490.20" y2="226.10" stroke="#888" stroke-width="0.5"/>
<text x="487.6" y="227.60" font-size="4.2" font-family="Liberation Serif" fill="#222" stroke="#222" stroke-width="0.18" text-anchor="end" textLength="2.25" lengthAdjust="spacingAndGlyphs">0</text>
<line x1="488.70" y1="215.85" x2="490.20" y2="215.85" stroke="#888" stroke-width="0.5"/>
<text x="487.6" y="217.35" font-size="4.2" font-family="Liberation Serif" fill="#222" stroke="#222" stroke-width="0.18" text-anchor="end" textLength="4.50" lengthAdjust="spacingAndGlyphs">50</text>
<line x1="488.70" y1="205.60" x2="490.20" y2="205.60" stroke="#888" stroke-width="0.5"/>
<text x="487.6" y="207.10" font-size="4.2" font-family="Liberation Serif" fill="#222" stroke="#222" stroke-width="0.18" text-anchor="end" textLength="6.75" lengthAdjust="spacingAndGlyphs">100</text>
<line x1="488.70" y1="195.35" x2="490.20" y2="195.35" stroke="#888" stroke-width="0.5"/>
<text x="487.6" y="196.85" font-size="4.2" font-family="Liberation Serif" fill="#222" stroke="#222" stroke-width="0.18" text-anchor="end" textLength="6.75" lengthAdjust="spacingAndGlyphs">150</text>
<line x1="492.28" y1="224.60" x2="492.28" y2="226.10" stroke="#888" stroke-width="0.5"/>
<text x="492.28" y="231.00" font-size="4.2" font-family="Liberation Serif" fill="#222" stroke="#222" stroke-width="0.18" text-anchor="middle" textLength="8.60" lengthAdjust="spacingAndGlyphs">−0.2</text>
<line x1="518.60" y1="224.60" x2="518.60" y2="226.10" stroke="#888" stroke-width="0.5"/>
<text x="518.60" y="231.00" font-size="4.2" font-family="Liberation Serif" fill="#222" stroke="#222" stroke-width="0.18" text-anchor="middle" textLength="6.40" lengthAdjust="spacingAndGlyphs">0.0</text>
<line x1="544.92" y1="224.60" x2="544.92" y2="226.10" stroke="#888" stroke-width="0.5"/>
<text x="544.92" y="231.00" font-size="4.2" font-family="Liberation Serif" fill="#222" stroke="#222" stroke-width="0.18" text-anchor="middle" textLength="6.40" lengthAdjust="spacingAndGlyphs">0.2</text>
<line x1="571.24" y1="224.60" x2="571.24" y2="226.10" stroke="#888" stroke-width="0.5"/>
<text x="571.24" y="231.00" font-size="4.2" font-family="Liberation Serif" fill="#222" stroke="#222" stroke-width="0.18" text-anchor="middle" textLength="6.40" lengthAdjust="spacingAndGlyphs">0.4</text>
<line x1="597.56" y1="224.60" x2="597.56" y2="226.10" stroke="#888" stroke-width="0.5"/>
<text x="597.56" y="231.00" font-size="4.2" font-family="Liberation Serif" fill="#222" stroke="#222" stroke-width="0.18" text-anchor="middle" textLength="6.40" lengthAdjust="spacingAndGlyphs">0.6</text>
<line x1="623.88" y1="224.60" x2="623.88" y2="226.10" stroke="#888" stroke-width="0.5"/>
<text x="623.88" y="231.00" font-size="4.2" font-family="Liberation Serif" fill="#222" stroke="#222" stroke-width="0.18" text-anchor="middle" textLength="6.40" lengthAdjust="spacingAndGlyphs">0.8</text>
<line x1="650.20" y1="224.60" x2="650.20" y2="226.10" stroke="#888" stroke-width="0.5"/>
<text x="650.20" y="231.00" font-size="4.2" font-family="Liberation Serif" fill="#222" stroke="#222" stroke-width="0.18" text-anchor="middle" textLength="6.40" lengthAdjust="spacingAndGlyphs">1.0</text>
<line x1="676.52" y1="224.60" x2="676.52" y2="226.10" stroke="#888" stroke-width="0.5"/>
<text x="676.52" y="231.00" font-size="4.2" font-family="Liberation Serif" fill="#222" stroke="#222" stroke-width="0.18" text-anchor="middle" textLength="6.40" lengthAdjust="spacingAndGlyphs">1.2</text>
<text transform="translate(478.2,207.10) rotate(-90)" font-size="4.5" font-family="Liberation Sans" fill="#222" stroke="#222" stroke-width="0.12" text-anchor="middle">Count</text>
<text x="586.00" y="241.00" font-size="7.9" font-weight="bold" font-family="Liberation Sans" fill="#111" text-anchor="middle" textLength="35.00" lengthAdjust="spacingAndGlyphs" stroke="#111" stroke-width="0.2">6hr Post-PCI</text>
<line x1="492.74" y1="245.60" x2="492.74" y2="283.40" stroke="#e2e2e2" stroke-width="0.6"/>
<line x1="519.00" y1="245.60" x2="519.00" y2="283.40" stroke="#e2e2e2" stroke-width="0.6"/>
<line x1="545.26" y1="245.60" x2="545.26" y2="283.40" stroke="#e2e2e2" stroke-width="0.6"/>
<line x1="571.52" y1="245.60" x2="571.52" y2="283.40" stroke="#e2e2e2" stroke-width="0.6"/>
<line x1="597.78" y1="245.60" x2="597.78" y2="283.40" stroke="#e2e2e2" stroke-width="0.6"/>
<line x1="624.04" y1="245.60" x2="624.04" y2="283.40" stroke="#e2e2e2" stroke-width="0.6"/>
<line x1="650.30" y1="245.60" x2="650.30" y2="283.40" stroke="#e2e2e2" stroke-width="0.6"/>
<line x1="676.56" y1="245.60" x2="676.56" y2="283.40" stroke="#e2e2e2" stroke-width="0.6"/>
<line x1="488.70" y1="273.00" x2="682.00" y2="273.00" stroke="#e2e2e2" stroke-width="0.6"/>
<line x1="488.70" y1="262.60" x2="682.00" y2="262.60" stroke="#e2e2e2" stroke-width="0.6"/>
<line x1="488.70" y1="252.20" x2="682.00" y2="252.20" stroke="#e2e2e2" stroke-width="0.6"/>
<path d="M489.2,283.4 L489.2,283.4 L490.2,283.4 L491.1,283.4 L492.1,283.3 L493.1,283.3 L494.0,283.3 L495.0,283.2 L495.9,283.1 L496.9,283.0 L497.9,282.8 L498.8,282.6 L499.8,282.3 L500.8,281.9 L501.7,281.4 L502.7,280.9 L503.7,280.3 L504.6,279.7 L505.6,279.0 L506.6,278.1 L507.5,277.0 L508.5,275.7 L509.4,274.2 L510.4,272.6 L511.4,270.8 L512.3,268.8 L513.3,266.4 L514.3,263.8 L515.2,261.1 L516.2,258.5 L517.2,255.9 L518.1,253.3 L519.1,251.2 L520.0,249.6 L521.0,248.2 L522.0,247.3 L522.9,247.0 L523.9,247.5 L524.9,248.6 L525.8,250.0 L526.8,251.5 L527.8,253.1 L528.7,255.0 L529.7,256.9 L530.6,258.9 L531.6,260.8 L532.6,262.8 L533.5,264.9 L534.5,266.8 L535.5,268.5 L536.4,270.0 L537.4,271.3 L538.4,272.6 L539.3,273.7 L540.3,274.5 L541.3,275.2 L542.2,275.8 L543.2,276.4 L544.1,276.8 L545.1,277.2 L546.1,277.5 L547.0,277.8 L548.0,278.1 L549.0,278.3 L549.9,278.6 L550.9,278.8 L551.9,279.0 L552.8,279.2 L553.8,279.4 L554.7,279.5 L555.7,279.7 L556.7,279.8 L557.6,279.8 L558.6,279.9 L559.6,280.0 L560.5,280.0 L561.5,280.1 L562.5,280.1 L563.4,280.2 L564.4,280.2 L565.3,280.2 L566.3,280.3 L567.3,280.3 L568.2,280.2 L569.2,280.2 L570.2,280.0 L571.1,279.9 L572.1,279.8 L573.1,279.7 L574.0,279.6 L575.0,279.6 L576.0,279.5 L576.9,279.4 L577.9,279.3 L578.8,279.3 L579.8,279.2 L580.8,279.1 L581.7,279.1 L582.7,279.1 L583.7,279.0 L584.6,279.0 L585.6,279.0 L586.6,279.1 L587.5,279.1 L588.5,279.1 L589.4,279.2 L590.4,279.2 L591.4,279.2 L592.3,279.3 L593.3,279.3 L594.3,279.4 L595.2,279.4 L596.2,279.4 L597.2,279.4 L598.1,279.4 L599.1,279.4 L600.0,279.4 L601.0,279.4 L602.0,279.4 L602.9,279.3 L603.9,279.3 L604.9,279.3 L605.8,279.2 L606.8,279.2 L607.8,279.1 L608.7,279.1 L609.7,279.0 L610.7,278.9 L611.6,278.9 L612.6,278.7 L613.5,278.6 L614.5,278.5 L615.5,278.3 L616.4,278.2 L617.4,278.1 L618.4,278.0 L619.3,277.9 L620.3,277.8 L621.3,277.7 L622.2,277.6 L623.2,277.4 L624.1,277.1 L625.1,276.6 L626.1,275.9 L627.0,275.0 L628.0,273.9 L629.0,272.8 L629.9,271.6 L630.9,270.3 L631.9,268.7 L632.8,267.1 L633.8,265.4 L634.8,263.7 L635.7,261.9 L636.7,260.0 L637.6,258.2 L638.6,256.8 L639.6,255.7 L640.5,254.8 L641.5,254.0 L642.5,253.4 L643.4,253.0 L644.4,252.7 L645.4,252.8 L646.3,253.3 L647.3,254.1 L648.2,255.2 L649.2,256.5 L650.2,257.9 L651.1,259.8 L652.1,262.2 L653.1,264.8 L654.0,267.3 L655.0,269.6 L656.0,271.6 L656.9,273.4 L657.9,275.2 L658.8,276.7 L659.8,278.0 L660.8,279.1 L661.7,280.1 L662.7,281.0 L663.7,281.7 L664.6,282.3 L665.6,282.7 L666.6,283.0 L667.5,283.2 L668.5,283.4 L669.5,283.4 L670.4,283.4 L671.4,283.4 L672.3,283.4 L673.3,283.4 L674.3,283.4 L675.2,283.4 L676.2,283.4 L677.2,283.4 L678.1,283.4 L679.1,283.4 L680.1,283.4 L681.0,283.4 L681.5,283.4 L681.5,283.4 Z" fill="#9ed9bd" stroke="none"/>
<line x1="492.74" y1="245.60" x2="492.74" y2="283.40" stroke="#fff" stroke-width="0.6" opacity="0.3"/>
<line x1="519.00" y1="245.60" x2="519.00" y2="283.40" stroke="#fff" stroke-width="0.6" opacity="0.3"/>
<line x1="545.26" y1="245.60" x2="545.26" y2="283.40" stroke="#fff" stroke-width="0.6" opacity="0.3"/>
<line x1="571.52" y1="245.60" x2="571.52" y2="283.40" stroke="#fff" stroke-width="0.6" opacity="0.3"/>
<line x1="597.78" y1="245.60" x2="597.78" y2="283.40" stroke="#fff" stroke-width="0.6" opacity="0.3"/>
<line x1="624.04" y1="245.60" x2="624.04" y2="283.40" stroke="#fff" stroke-width="0.6" opacity="0.3"/>
<line x1="650.30" y1="245.60" x2="650.30" y2="283.40" stroke="#fff" stroke-width="0.6" opacity="0.3"/>
<line x1="676.56" y1="245.60" x2="676.56" y2="283.40" stroke="#fff" stroke-width="0.6" opacity="0.3"/>
<line x1="488.70" y1="273.00" x2="682.00" y2="273.00" stroke="#fff" stroke-width="0.6" opacity="0.3"/>
<line x1="488.70" y1="262.60" x2="682.00" y2="262.60" stroke="#fff" stroke-width="0.6" opacity="0.3"/>
<line x1="488.70" y1="252.20" x2="682.00" y2="252.20" stroke="#fff" stroke-width="0.6" opacity="0.3"/>
<rect x="519.92" y="247.21" width="4.99" height="36.19" fill="#44b07f"/>
<rect x="524.91" y="276.95" width="4.60" height="6.45" fill="#44b07f"/>
<rect x="529.50" y="280.28" width="8.53" height="3.12" fill="#44b07f"/>
<rect x="538.04" y="282.78" width="4.60" height="0.62" fill="#44b07f"/>
<rect x="542.63" y="281.94" width="10.50" height="1.46" fill="#44b07f"/>
<rect x="553.14" y="282.15" width="55.15" height="1.25" fill="#44b07f"/>
<rect x="608.28" y="280.90" width="5.25" height="2.50" fill="#44b07f"/>
<rect x="613.54" y="282.15" width="10.50" height="1.25" fill="#44b07f"/>
<rect x="624.04" y="280.90" width="4.99" height="2.50" fill="#44b07f"/>
<rect x="629.03" y="281.74" width="3.41" height="1.66" fill="#44b07f"/>
<rect x="632.44" y="280.90" width="4.73" height="2.50" fill="#44b07f"/>
<rect x="637.17" y="278.41" width="4.20" height="4.99" fill="#44b07f"/>
<rect x="641.37" y="273.62" width="4.07" height="9.78" fill="#44b07f"/>
<rect x="645.44" y="260.10" width="4.60" height="23.30" fill="#44b07f"/>
<path d="M489.2,283.4 L490.2,283.4 L491.1,283.4 L492.1,283.3 L493.1,283.3 L494.0,283.3 L495.0,283.2 L495.9,283.1 L496.9,283.0 L497.9,282.8 L498.8,282.6 L499.8,282.3 L500.8,281.9 L501.7,281.4 L502.7,280.9 L503.7,280.3 L504.6,279.7 L505.6,279.0 L506.6,278.1 L507.5,277.0 L508.5,275.7 L509.4,274.2 L510.4,272.6 L511.4,270.8 L512.3,268.8 L513.3,266.4 L514.3,263.8 L515.2,261.1 L516.2,258.5 L517.2,255.9 L518.1,253.3 L519.1,251.2 L520.0,249.6 L521.0,248.2 L522.0,247.3 L522.9,247.0 L523.9,247.5 L524.9,248.6 L525.8,250.0 L526.8,251.5 L527.8,253.1 L528.7,255.0 L529.7,256.9 L530.6,258.9 L531.6,260.8 L532.6,262.8 L533.5,264.9 L534.5,266.8 L535.5,268.5 L536.4,270.0 L537.4,271.3 L538.4,272.6 L539.3,273.7 L540.3,274.5 L541.3,275.2 L542.2,275.8 L543.2,276.4 L544.1,276.8 L545.1,277.2 L546.1,277.5 L547.0,277.8 L548.0,278.1 L549.0,278.3 L549.9,278.6 L550.9,278.8 L551.9,279.0 L552.8,279.2 L553.8,279.4 L554.7,279.5 L555.7,279.7 L556.7,279.8 L557.6,279.8 L558.6,279.9 L559.6,280.0 L560.5,280.0 L561.5,280.1 L562.5,280.1 L563.4,280.2 L564.4,280.2 L565.3,280.2 L566.3,280.3 L567.3,280.3 L568.2,280.2 L569.2,280.2 L570.2,280.0 L571.1,279.9 L572.1,279.8 L573.1,279.7 L574.0,279.6 L575.0,279.6 L576.0,279.5 L576.9,279.4 L577.9,279.3 L578.8,279.3 L579.8,279.2 L580.8,279.1 L581.7,279.1 L582.7,279.1 L583.7,279.0 L584.6,279.0 L585.6,279.0 L586.6,279.1 L587.5,279.1 L588.5,279.1 L589.4,279.2 L590.4,279.2 L591.4,279.2 L592.3,279.3 L593.3,279.3 L594.3,279.4 L595.2,279.4 L596.2,279.4 L597.2,279.4 L598.1,279.4 L599.1,279.4 L600.0,279.4 L601.0,279.4 L602.0,279.4 L602.9,279.3 L603.9,279.3 L604.9,279.3 L605.8,279.2 L606.8,279.2 L607.8,279.1 L608.7,279.1 L609.7,279.0 L610.7,278.9 L611.6,278.9 L612.6,278.7 L613.5,278.6 L614.5,278.5 L615.5,278.3 L616.4,278.2 L617.4,278.1 L618.4,278.0 L619.3,277.9 L620.3,277.8 L621.3,277.7 L622.2,277.6 L623.2,277.4 L624.1,277.1 L625.1,276.6 L626.1,275.9 L627.0,275.0 L628.0,273.9 L629.0,272.8 L629.9,271.6 L630.9,270.3 L631.9,268.7 L632.8,267.1 L633.8,265.4 L634.8,263.7 L635.7,261.9 L636.7,260.0 L637.6,258.2 L638.6,256.8 L639.6,255.7 L640.5,254.8 L641.5,254.0 L642.5,253.4 L643.4,253.0 L644.4,252.7 L645.4,252.8 L646.3,253.3 L647.3,254.1 L648.2,255.2 L649.2,256.5 L650.2,257.9 L651.1,259.8 L652.1,262.2 L653.1,264.8 L654.0,267.3 L655.0,269.6 L656.0,271.6 L656.9,273.4 L657.9,275.2 L658.8,276.7 L659.8,278.0 L660.8,279.1 L661.7,280.1 L662.7,281.0 L663.7,281.7 L664.6,282.3 L665.6,282.7 L666.6,283.0 L667.5,283.2 L668.5,283.4 L669.5,283.4 L670.4,283.4 L671.4,283.4 L672.3,283.4 L673.3,283.4 L674.3,283.4 L675.2,283.4 L676.2,283.4 L677.2,283.4 L678.1,283.4 L679.1,283.4 L680.1,283.4 L681.0,283.4 L681.5,283.4" fill="none" stroke="#5cb98e" stroke-width="0.7"/>
<line x1="488.70" y1="245.60" x2="488.70" y2="283.40" stroke="#999" stroke-width="0.9"/>
<line x1="488.30" y1="283.40" x2="682.00" y2="283.40" stroke="#aaa" stroke-width="1.0"/>
<line x1="488.70" y1="283.40" x2="490.20" y2="283.40" stroke="#888" stroke-width="0.5"/>
<text x="487.6" y="284.90" font-size="4.2" font-family="Liberation Serif" fill="#222" stroke="#222" stroke-width="0.18" text-anchor="end" textLength="2.25" lengthAdjust="spacingAndGlyphs">0</text>
<line x1="488.70" y1="273.00" x2="490.20" y2="273.00" stroke="#888" stroke-width="0.5"/>
<text x="487.6" y="274.50" font-size="4.2" font-family="Liberation Serif" fill="#222" stroke="#222" stroke-width="0.18" text-anchor="end" textLength="4.50" lengthAdjust="spacingAndGlyphs">50</text>
<line x1="488.70" y1="262.60" x2="490.20" y2="262.60" stroke="#888" stroke-width="0.5"/>
<text x="487.6" y="264.10" font-size="4.2" font-family="Liberation Serif" fill="#222" stroke="#222" stroke-width="0.18" text-anchor="end" textLength="6.75" lengthAdjust="spacingAndGlyphs">100</text>
<line x1="488.70" y1="252.20" x2="490.20" y2="252.20" stroke="#888" stroke-width="0.5"/>
<text x="487.6" y="253.70" font-size="4.2" font-family="Liberation Serif" fill="#222" stroke="#222" stroke-width="0.18" text-anchor="end" textLength="6.75" lengthAdjust="spacingAndGlyphs">150</text>
<line x1="492.74" y1="281.90" x2="492.74" y2="283.40" stroke="#888" stroke-width="0.5"/>
<text x="492.74" y="288.30" font-size="4.2" font-family="Liberation Serif" fill="#222" stroke="#222" stroke-width="0.18" text-anchor="middle" textLength="8.60" lengthAdjust="spacingAndGlyphs">−0.2</text>
<line x1="519.00" y1="281.90" x2="519.00" y2="283.40" stroke="#888" stroke-width="0.5"/>
<text x="519.00" y="288.30" font-size="4.2" font-family="Liberation Serif" fill="#222" stroke="#222" stroke-width="0.18" text-anchor="middle" textLength="6.40" lengthAdjust="spacingAndGlyphs">0.0</text>
<line x1="545.26" y1="281.90" x2="545.26" y2="283.40" stroke="#888" stroke-width="0.5"/>
<text x="545.26" y="288.30" font-size="4.2" font-family="Liberation Serif" fill="#222" stroke="#222" stroke-width="0.18" text-anchor="middle" textLength="6.40" lengthAdjust="spacingAndGlyphs">0.2</text>
<line x1="571.52" y1="281.90" x2="571.52" y2="283.40" stroke="#888" stroke-width="0.5"/>
<text x="571.52" y="288.30" font-size="4.2" font-family="Liberation Serif" fill="#222" stroke="#222" stroke-width="0.18" text-anchor="middle" textLength="6.40" lengthAdjust="spacingAndGlyphs">0.4</text>
<line x1="597.78" y1="281.90" x2="597.78" y2="283.40" stroke="#888" stroke-width="0.5"/>
<text x="597.78" y="288.30" font-size="4.2" font-family="Liberation Serif" fill="#222" stroke="#222" stroke-width="0.18" text-anchor="middle" textLength="6.40" lengthAdjust="spacingAndGlyphs">0.6</text>
<line x1="624.04" y1="281.90" x2="624.04" y2="283.40" stroke="#888" stroke-width="0.5"/>
<text x="624.04" y="288.30" font-size="4.2" font-family="Liberation Serif" fill="#222" stroke="#222" stroke-width="0.18" text-anchor="middle" textLength="6.40" lengthAdjust="spacingAndGlyphs">0.8</text>
<line x1="650.30" y1="281.90" x2="650.30" y2="283.40" stroke="#888" stroke-width="0.5"/>
<text x="650.30" y="288.30" font-size="4.2" font-family="Liberation Serif" fill="#222" stroke="#222" stroke-width="0.18" text-anchor="middle" textLength="6.40" lengthAdjust="spacingAndGlyphs">1.0</text>
<line x1="676.56" y1="281.90" x2="676.56" y2="283.40" stroke="#888" stroke-width="0.5"/>
<text x="676.56" y="288.30" font-size="4.2" font-family="Liberation Serif" fill="#222" stroke="#222" stroke-width="0.18" text-anchor="middle" textLength="6.40" lengthAdjust="spacingAndGlyphs">1.2</text>
<text transform="translate(478.2,264.50) rotate(-90)" font-size="4.5" font-family="Liberation Sans" fill="#222" stroke="#222" stroke-width="0.12" text-anchor="middle">Count</text>
<text x="586.00" y="297.90" font-size="7.9" font-weight="bold" font-family="Liberation Sans" fill="#111" text-anchor="middle" textLength="38.00" lengthAdjust="spacingAndGlyphs" stroke="#111" stroke-width="0.2">24hr Post-PCI</text>
<line x1="491.50" y1="303.40" x2="491.50" y2="341.00" stroke="#e2e2e2" stroke-width="0.6"/>
<line x1="518.10" y1="303.40" x2="518.10" y2="341.00" stroke="#e2e2e2" stroke-width="0.6"/>
<line x1="544.70" y1="303.40" x2="544.70" y2="341.00" stroke="#e2e2e2" stroke-width="0.6"/>
<line x1="571.30" y1="303.40" x2="571.30" y2="341.00" stroke="#e2e2e2" stroke-width="0.6"/>
<line x1="597.90" y1="303.40" x2="597.90" y2="341.00" stroke="#e2e2e2" stroke-width="0.6"/>
<line x1="624.50" y1="303.40" x2="624.50" y2="341.00" stroke="#e2e2e2" stroke-width="0.6"/>
<line x1="651.10" y1="303.40" x2="651.10" y2="341.00" stroke="#e2e2e2" stroke-width="0.6"/>
<line x1="677.70" y1="303.40" x2="677.70" y2="341.00" stroke="#e2e2e2" stroke-width="0.6"/>
<line x1="488.70" y1="325.10" x2="682.00" y2="325.10" stroke="#e2e2e2" stroke-width="0.6"/>
<line x1="488.70" y1="309.20" x2="682.00" y2="309.20" stroke="#e2e2e2" stroke-width="0.6"/>
<path d="M489.2,341.0 L489.2,341.0 L490.2,341.0 L491.1,341.0 L492.1,341.0 L493.1,341.0 L494.0,340.9 L495.0,340.9 L495.9,340.9 L496.9,340.8 L497.9,340.8 L498.8,340.6 L499.8,340.4 L500.8,340.1 L501.7,339.7 L502.7,339.2 L503.7,338.8 L504.6,338.2 L505.6,337.4 L506.6,336.4 L507.5,335.3 L508.5,333.9 L509.4,332.5 L510.4,330.9 L511.4,329.0 L512.3,326.9 L513.3,324.5 L514.3,322.0 L515.2,319.4 L516.2,316.5 L517.2,313.7 L518.1,311.2 L519.1,309.1 L520.0,307.3 L521.0,305.8 L522.0,305.0 L522.9,304.9 L523.9,305.6 L524.9,306.8 L525.8,308.2 L526.8,309.8 L527.8,311.7 L528.7,313.9 L529.7,316.2 L530.6,318.5 L531.6,320.5 L532.6,322.4 L533.5,324.1 L534.5,325.8 L535.5,327.3 L536.4,328.6 L537.4,329.9 L538.4,331.0 L539.3,332.0 L540.3,332.9 L541.3,333.5 L542.2,334.1 L543.2,334.6 L544.1,335.1 L545.1,335.4 L546.1,335.8 L547.0,336.0 L548.0,336.3 L549.0,336.5 L549.9,336.7 L550.9,336.9 L551.9,337.1 L552.8,337.2 L553.8,337.4 L554.7,337.5 L555.7,337.6 L556.7,337.7 L557.6,337.8 L558.6,337.8 L559.6,337.9 L560.5,337.9 L561.5,338.0 L562.5,338.0 L563.4,338.0 L564.4,338.1 L565.3,338.1 L566.3,338.1 L567.3,338.1 L568.2,338.1 L569.2,338.1 L570.2,338.1 L571.1,338.1 L572.1,338.1 L573.1,338.1 L574.0,338.0 L575.0,338.0 L576.0,338.0 L576.9,338.0 L577.9,338.0 L578.8,338.0 L579.8,338.0 L580.8,338.1 L581.7,338.1 L582.7,338.2 L583.7,338.3 L584.6,338.3 L585.6,338.4 L586.6,338.5 L587.5,338.5 L588.5,338.5 L589.4,338.6 L590.4,338.6 L591.4,338.7 L592.3,338.7 L593.3,338.8 L594.3,338.8 L595.2,338.8 L596.2,338.9 L597.2,338.9 L598.1,338.9 L599.1,338.9 L600.0,338.9 L601.0,338.9 L602.0,338.9 L602.9,338.8 L603.9,338.8 L604.9,338.7 L605.8,338.7 L606.8,338.6 L607.8,338.5 L608.7,338.4 L609.7,338.3 L610.7,338.2 L611.6,338.1 L612.6,338.1 L613.5,338.0 L614.5,337.8 L615.5,337.7 L616.4,337.6 L617.4,337.5 L618.4,337.3 L619.3,337.2 L620.3,337.1 L621.3,336.9 L622.2,336.8 L623.2,336.7 L624.1,336.5 L625.1,336.4 L626.1,336.1 L627.0,335.7 L628.0,335.2 L629.0,334.5 L629.9,333.8 L630.9,333.0 L631.9,332.3 L632.8,331.4 L633.8,330.5 L634.8,329.6 L635.7,328.7 L636.7,327.7 L637.6,326.8 L638.6,325.8 L639.6,325.0 L640.5,324.5 L641.5,324.1 L642.5,323.8 L643.4,323.5 L644.4,323.3 L645.4,323.2 L646.3,323.3 L647.3,323.5 L648.2,323.9 L649.2,324.4 L650.2,325.0 L651.1,325.7 L652.1,326.5 L653.1,327.7 L654.0,329.0 L655.0,330.4 L656.0,331.7 L656.9,333.0 L657.9,334.4 L658.8,335.7 L659.8,336.9 L660.8,337.8 L661.7,338.6 L662.7,339.2 L663.7,339.8 L664.6,340.2 L665.6,340.5 L666.6,340.7 L667.5,340.8 L668.5,340.9 L669.5,341.0 L670.4,341.0 L671.4,341.0 L672.3,341.0 L673.3,341.0 L674.3,341.0 L675.2,341.0 L676.2,341.0 L677.2,341.0 L678.1,341.0 L679.1,341.0 L680.1,341.0 L681.0,341.0 L681.5,341.0 L681.5,341.0 Z" fill="#b3e1a9" stroke="none"/>
<line x1="491.50" y1="303.40" x2="491.50" y2="341.00" stroke="#fff" stroke-width="0.6" opacity="0.3"/>
<line x1="518.10" y1="303.40" x2="518.10" y2="341.00" stroke="#fff" stroke-width="0.6" opacity="0.3"/>
<line x1="544.70" y1="303.40" x2="544.70" y2="341.00" stroke="#fff" stroke-width="0.6" opacity="0.3"/>
<line x1="571.30" y1="303.40" x2="571.30" y2="341.00" stroke="#fff" stroke-width="0.6" opacity="0.3"/>
<line x1="597.90" y1="303.40" x2="597.90" y2="341.00" stroke="#fff" stroke-width="0.6" opacity="0.3"/>
<line x1="624.50" y1="303.40" x2="624.50" y2="341.00" stroke="#fff" stroke-width="0.6" opacity="0.3"/>
<line x1="651.10" y1="303.40" x2="651.10" y2="341.00" stroke="#fff" stroke-width="0.6" opacity="0.3"/>
<line x1="677.70" y1="303.40" x2="677.70" y2="341.00" stroke="#fff" stroke-width="0.6" opacity="0.3"/>
<line x1="488.70" y1="325.10" x2="682.00" y2="325.10" stroke="#fff" stroke-width="0.6" opacity="0.3"/>
<line x1="488.70" y1="309.20" x2="682.00" y2="309.20" stroke="#fff" stroke-width="0.6" opacity="0.3"/>
<rect x="519.83" y="304.75" width="5.05" height="36.25" fill="#6dc569"/>
<rect x="524.88" y="334.64" width="4.12" height="6.36" fill="#6dc569"/>
<rect x="529.01" y="337.82" width="9.04" height="3.18" fill="#6dc569"/>
<rect x="538.05" y="340.20" width="10.64" height="0.80" fill="#6dc569"/>
<rect x="548.69" y="340.20" width="69.16" height="0.80" fill="#6dc569"/>
<rect x="617.85" y="340.05" width="11.97" height="0.95" fill="#6dc569"/>
<rect x="629.82" y="339.41" width="7.18" height="1.59" fill="#6dc569"/>
<rect x="637.00" y="338.14" width="4.79" height="2.86" fill="#6dc569"/>
<rect x="641.79" y="335.12" width="4.12" height="5.88" fill="#6dc569"/>
<rect x="645.91" y="327.96" width="4.79" height="13.04" fill="#6dc569"/>
<path d="M489.2,341.0 L490.2,341.0 L491.1,341.0 L492.1,341.0 L493.1,341.0 L494.0,340.9 L495.0,340.9 L495.9,340.9 L496.9,340.8 L497.9,340.8 L498.8,340.6 L499.8,340.4 L500.8,340.1 L501.7,339.7 L502.7,339.2 L503.7,338.8 L504.6,338.2 L505.6,337.4 L506.6,336.4 L507.5,335.3 L508.5,333.9 L509.4,332.5 L510.4,330.9 L511.4,329.0 L512.3,326.9 L513.3,324.5 L514.3,322.0 L515.2,319.4 L516.2,316.5 L517.2,313.7 L518.1,311.2 L519.1,309.1 L520.0,307.3 L521.0,305.8 L522.0,305.0 L522.9,304.9 L523.9,305.6 L524.9,306.8 L525.8,308.2 L526.8,309.8 L527.8,311.7 L528.7,313.9 L529.7,316.2 L530.6,318.5 L531.6,320.5 L532.6,322.4 L533.5,324.1 L534.5,325.8 L535.5,327.3 L536.4,328.6 L537.4,329.9 L538.4,331.0 L539.3,332.0 L540.3,332.9 L541.3,333.5 L542.2,334.1 L543.2,334.6 L544.1,335.1 L545.1,335.4 L546.1,335.8 L547.0,336.0 L548.0,336.3 L549.0,336.5 L549.9,336.7 L550.9,336.9 L551.9,337.1 L552.8,337.2 L553.8,337.4 L554.7,337.5 L555.7,337.6 L556.7,337.7 L557.6,337.8 L558.6,337.8 L559.6,337.9 L560.5,337.9 L561.5,338.0 L562.5,338.0 L563.4,338.0 L564.4,338.1 L565.3,338.1 L566.3,338.1 L567.3,338.1 L568.2,338.1 L569.2,338.1 L570.2,338.1 L571.1,338.1 L572.1,338.1 L573.1,338.1 L574.0,338.0 L575.0,338.0 L576.0,338.0 L576.9,338.0 L577.9,338.0 L578.8,338.0 L579.8,338.0 L580.8,338.1 L581.7,338.1 L582.7,338.2 L583.7,338.3 L584.6,338.3 L585.6,338.4 L586.6,338.5 L587.5,338.5 L588.5,338.5 L589.4,338.6 L590.4,338.6 L591.4,338.7 L592.3,338.7 L593.3,338.8 L594.3,338.8 L595.2,338.8 L596.2,338.9 L597.2,338.9 L598.1,338.9 L599.1,338.9 L600.0,338.9 L601.0,338.9 L602.0,338.9 L602.9,338.8 L603.9,338.8 L604.9,338.7 L605.8,338.7 L606.8,338.6 L607.8,338.5 L608.7,338.4 L609.7,338.3 L610.7,338.2 L611.6,338.1 L612.6,338.1 L613.5,338.0 L614.5,337.8 L615.5,337.7 L616.4,337.6 L617.4,337.5 L618.4,337.3 L619.3,337.2 L620.3,337.1 L621.3,336.9 L622.2,336.8 L623.2,336.7 L624.1,336.5 L625.1,336.4 L626.1,336.1 L627.0,335.7 L628.0,335.2 L629.0,334.5 L629.9,333.8 L630.9,333.0 L631.9,332.3 L632.8,331.4 L633.8,330.5 L634.8,329.6 L635.7,328.7 L636.7,327.7 L637.6,326.8 L638.6,325.8 L639.6,325.0 L640.5,324.5 L641.5,324.1 L642.5,323.8 L643.4,323.5 L644.4,323.3 L645.4,323.2 L646.3,323.3 L647.3,323.5 L648.2,323.9 L649.2,324.4 L650.2,325.0 L651.1,325.7 L652.1,326.5 L653.1,327.7 L654.0,329.0 L655.0,330.4 L656.0,331.7 L656.9,333.0 L657.9,334.4 L658.8,335.7 L659.8,336.9 L660.8,337.8 L661.7,338.6 L662.7,339.2 L663.7,339.8 L664.6,340.2 L665.6,340.5 L666.6,340.7 L667.5,340.8 L668.5,340.9 L669.5,341.0 L670.4,341.0 L671.4,341.0 L672.3,341.0 L673.3,341.0 L674.3,341.0 L675.2,341.0 L676.2,341.0 L677.2,341.0 L678.1,341.0 L679.1,341.0 L680.1,341.0 L681.0,341.0 L681.5,341.0" fill="none" stroke="#7cc778" stroke-width="0.7"/>
<line x1="488.70" y1="303.40" x2="488.70" y2="341.00" stroke="#999" stroke-width="0.9"/>
<line x1="488.30" y1="341.00" x2="682.00" y2="341.00" stroke="#aaa" stroke-width="1.0"/>
<line x1="488.70" y1="341.00" x2="490.20" y2="341.00" stroke="#888" stroke-width="0.5"/>
<text x="487.6" y="342.50" font-size="4.2" font-family="Liberation Serif" fill="#222" stroke="#222" stroke-width="0.18" text-anchor="end" textLength="2.25" lengthAdjust="spacingAndGlyphs">0</text>
<line x1="488.70" y1="325.10" x2="490.20" y2="325.10" stroke="#888" stroke-width="0.5"/>
<text x="487.6" y="326.60" font-size="4.2" font-family="Liberation Serif" fill="#222" stroke="#222" stroke-width="0.18" text-anchor="end" textLength="6.75" lengthAdjust="spacingAndGlyphs">100</text>
<line x1="488.70" y1="309.20" x2="490.20" y2="309.20" stroke="#888" stroke-width="0.5"/>
<text x="487.6" y="310.70" font-size="4.2" font-family="Liberation Serif" fill="#222" stroke="#222" stroke-width="0.18" text-anchor="end" textLength="6.75" lengthAdjust="spacingAndGlyphs">200</text>
<line x1="491.50" y1="339.50" x2="491.50" y2="341.00" stroke="#888" stroke-width="0.5"/>
<text x="491.50" y="345.90" font-size="4.2" font-family="Liberation Serif" fill="#222" stroke="#222" stroke-width="0.18" text-anchor="middle" textLength="8.60" lengthAdjust="spacingAndGlyphs">−0.2</text>
<line x1="518.10" y1="339.50" x2="518.10" y2="341.00" stroke="#888" stroke-width="0.5"/>
<text x="518.10" y="345.90" font-size="4.2" font-family="Liberation Serif" fill="#222" stroke="#222" stroke-width="0.18" text-anchor="middle" textLength="6.40" lengthAdjust="spacingAndGlyphs">0.0</text>
<line x1="544.70" y1="339.50" x2="544.70" y2="341.00" stroke="#888" stroke-width="0.5"/>
<text x="544.70" y="345.90" font-size="4.2" font-family="Liberation Serif" fill="#222" stroke="#222" stroke-width="0.18" text-anchor="middle" textLength="6.40" lengthAdjust="spacingAndGlyphs">0.2</text>
<line x1="571.30" y1="339.50" x2="571.30" y2="341.00" stroke="#888" stroke-width="0.5"/>
<text x="571.30" y="345.90" font-size="4.2" font-family="Liberation Serif" fill="#222" stroke="#222" stroke-width="0.18" text-anchor="middle" textLength="6.40" lengthAdjust="spacingAndGlyphs">0.4</text>
<line x1="597.90" y1="339.50" x2="597.90" y2="341.00" stroke="#888" stroke-width="0.5"/>
<text x="597.90" y="345.90" font-size="4.2" font-family="Liberation Serif" fill="#222" stroke="#222" stroke-width="0.18" text-anchor="middle" textLength="6.40" lengthAdjust="spacingAndGlyphs">0.6</text>
<line x1="624.50" y1="339.50" x2="624.50" y2="341.00" stroke="#888" stroke-width="0.5"/>
<text x="624.50" y="345.90" font-size="4.2" font-family="Liberation Serif" fill="#222" stroke="#222" stroke-width="0.18" text-anchor="middle" textLength="6.40" lengthAdjust="spacingAndGlyphs">0.8</text>
<line x1="651.10" y1="339.50" x2="651.10" y2="341.00" stroke="#888" stroke-width="0.5"/>
<text x="651.10" y="345.90" font-size="4.2" font-family="Liberation Serif" fill="#222" stroke="#222" stroke-width="0.18" text-anchor="middle" textLength="6.40" lengthAdjust="spacingAndGlyphs">1.0</text>
<line x1="677.70" y1="339.50" x2="677.70" y2="341.00" stroke="#888" stroke-width="0.5"/>
<text x="677.70" y="345.90" font-size="4.2" font-family="Liberation Serif" fill="#222" stroke="#222" stroke-width="0.18" text-anchor="middle" textLength="6.40" lengthAdjust="spacingAndGlyphs">1.2</text>
<text transform="translate(478.2,322.20) rotate(-90)" font-size="4.5" font-family="Liberation Sans" fill="#222" stroke="#222" stroke-width="0.12" text-anchor="middle">Count</text>
<text x="586.00" y="355.00" font-size="7.9" font-weight="bold" font-family="Liberation Sans" fill="#111" text-anchor="middle" textLength="35.60" lengthAdjust="spacingAndGlyphs" stroke="#111" stroke-width="0.2">At discharge</text>
<line x1="516.60" y1="360.40" x2="516.60" y2="398.20" stroke="#e2e2e2" stroke-width="0.6"/>
<line x1="543.76" y1="360.40" x2="543.76" y2="398.20" stroke="#e2e2e2" stroke-width="0.6"/>
<line x1="570.92" y1="360.40" x2="570.92" y2="398.20" stroke="#e2e2e2" stroke-width="0.6"/>
<line x1="598.08" y1="360.40" x2="598.08" y2="398.20" stroke="#e2e2e2" stroke-width="0.6"/>
<line x1="625.24" y1="360.40" x2="625.24" y2="398.20" stroke="#e2e2e2" stroke-width="0.6"/>
<line x1="652.40" y1="360.40" x2="652.40" y2="398.20" stroke="#e2e2e2" stroke-width="0.6"/>
<line x1="679.56" y1="360.40" x2="679.56" y2="398.20" stroke="#e2e2e2" stroke-width="0.6"/>
<line x1="488.70" y1="383.30" x2="682.00" y2="383.30" stroke="#e2e2e2" stroke-width="0.6"/>
<line x1="488.70" y1="368.40" x2="682.00" y2="368.40" stroke="#e2e2e2" stroke-width="0.6"/>
<path d="M489.2,398.2 L489.2,398.2 L490.2,398.2 L491.1,398.2 L492.1,398.2 L493.1,398.2 L494.0,398.2 L495.0,398.2 L495.9,398.2 L496.9,398.2 L497.9,398.1 L498.8,398.0 L499.8,397.8 L500.8,397.5 L501.7,397.1 L502.7,396.6 L503.7,396.1 L504.6,395.4 L505.6,394.6 L506.6,393.5 L507.5,392.2 L508.5,390.7 L509.4,389.0 L510.4,387.1 L511.4,384.8 L512.3,382.4 L513.3,379.7 L514.3,376.5 L515.2,373.2 L516.2,370.1 L517.2,367.5 L518.1,365.3 L519.1,363.6 L520.0,362.8 L521.0,363.1 L522.0,364.1 L522.9,365.5 L523.9,367.3 L524.9,369.5 L525.8,372.0 L526.8,374.6 L527.8,377.0 L528.7,379.2 L529.7,381.3 L530.6,383.3 L531.6,385.0 L532.6,386.6 L533.5,387.9 L534.5,389.2 L535.5,390.3 L536.4,391.2 L537.4,391.9 L538.4,392.4 L539.3,392.9 L540.3,393.4 L541.3,393.7 L542.2,394.0 L543.2,394.3 L544.1,394.5 L545.1,394.7 L546.1,394.9 L547.0,395.0 L548.0,395.2 L549.0,395.3 L549.9,395.4 L550.9,395.5 L551.9,395.6 L552.8,395.7 L553.8,395.8 L554.7,395.9 L555.7,396.0 L556.7,396.0 L557.6,396.1 L558.6,396.1 L559.6,396.2 L560.5,396.2 L561.5,396.2 L562.5,396.3 L563.4,396.3 L564.4,396.3 L565.3,396.3 L566.3,396.3 L567.3,396.3 L568.2,396.3 L569.2,396.3 L570.2,396.3 L571.1,396.3 L572.1,396.3 L573.1,396.3 L574.0,396.3 L575.0,396.3 L576.0,396.3 L576.9,396.3 L577.9,396.3 L578.8,396.3 L579.8,396.3 L580.8,396.3 L581.7,396.3 L582.7,396.3 L583.7,396.3 L584.6,396.3 L585.6,396.3 L586.6,396.3 L587.5,396.3 L588.5,396.4 L589.4,396.4 L590.4,396.4 L591.4,396.4 L592.3,396.4 L593.3,396.4 L594.3,396.4 L595.2,396.4 L596.2,396.4 L597.2,396.4 L598.1,396.4 L599.1,396.4 L600.0,396.4 L601.0,396.4 L602.0,396.4 L602.9,396.4 L603.9,396.4 L604.9,396.4 L605.8,396.4 L606.8,396.4 L607.8,396.4 L608.7,396.4 L609.7,396.4 L610.7,396.4 L611.6,396.4 L612.6,396.4 L613.5,396.3 L614.5,396.3 L615.5,396.3 L616.4,396.3 L617.4,396.3 L618.4,396.3 L619.3,396.3 L620.3,396.3 L621.3,396.3 L622.2,396.2 L623.2,396.2 L624.1,396.2 L625.1,396.1 L626.1,396.1 L627.0,396.0 L628.0,396.0 L629.0,395.9 L629.9,395.8 L630.9,395.6 L631.9,395.2 L632.8,394.8 L633.8,394.4 L634.8,393.9 L635.7,393.5 L636.7,393.1 L637.6,392.8 L638.6,392.4 L639.6,392.1 L640.5,391.8 L641.5,391.6 L642.5,391.3 L643.4,391.1 L644.4,390.9 L645.4,390.8 L646.3,390.8 L647.3,390.9 L648.2,391.2 L649.2,391.6 L650.2,392.0 L651.1,392.4 L652.1,392.9 L653.1,393.4 L654.0,393.9 L655.0,394.5 L656.0,395.0 L656.9,395.5 L657.9,396.0 L658.8,396.6 L659.8,397.0 L660.8,397.3 L661.7,397.6 L662.7,397.8 L663.7,398.0 L664.6,398.1 L665.6,398.2 L666.6,398.2 L667.5,398.2 L668.5,398.2 L669.5,398.2 L670.4,398.2 L671.4,398.2 L672.3,398.2 L673.3,398.2 L674.3,398.2 L675.2,398.2 L676.2,398.2 L677.2,398.2 L678.1,398.2 L679.1,398.2 L680.1,398.2 L681.0,398.2 L681.5,398.2 L681.5,398.2 Z" fill="#d3e89e" stroke="none"/>
<line x1="516.60" y1="360.40" x2="516.60" y2="398.20" stroke="#fff" stroke-width="0.6" opacity="0.3"/>
<line x1="543.76" y1="360.40" x2="543.76" y2="398.20" stroke="#fff" stroke-width="0.6" opacity="0.3"/>
<line x1="570.92" y1="360.40" x2="570.92" y2="398.20" stroke="#fff" stroke-width="0.6" opacity="0.3"/>
<line x1="598.08" y1="360.40" x2="598.08" y2="398.20" stroke="#fff" stroke-width="0.6" opacity="0.3"/>
<line x1="625.24" y1="360.40" x2="625.24" y2="398.20" stroke="#fff" stroke-width="0.6" opacity="0.3"/>
<line x1="652.40" y1="360.40" x2="652.40" y2="398.20" stroke="#fff" stroke-width="0.6" opacity="0.3"/>
<line x1="679.56" y1="360.40" x2="679.56" y2="398.20" stroke="#fff" stroke-width="0.6" opacity="0.3"/>
<line x1="488.70" y1="383.30" x2="682.00" y2="383.30" stroke="#fff" stroke-width="0.6" opacity="0.3"/>
<line x1="488.70" y1="368.40" x2="682.00" y2="368.40" stroke="#fff" stroke-width="0.6" opacity="0.3"/>
<rect x="518.09" y="362.44" width="4.75" height="35.76" fill="#b0d63f"/>
<rect x="522.85" y="393.13" width="4.21" height="5.07" fill="#b0d63f"/>
<rect x="527.06" y="395.67" width="8.83" height="2.53" fill="#b0d63f"/>
<rect x="535.88" y="397.16" width="6.52" height="1.04" fill="#b0d63f"/>
<rect x="542.40" y="397.45" width="89.63" height="0.74" fill="#b0d63f"/>
<rect x="632.03" y="396.86" width="10.86" height="1.34" fill="#b0d63f"/>
<rect x="642.89" y="396.11" width="5.02" height="2.09" fill="#b0d63f"/>
<rect x="647.92" y="393.73" width="4.48" height="4.47" fill="#b0d63f"/>
<path d="M489.2,398.2 L490.2,398.2 L491.1,398.2 L492.1,398.2 L493.1,398.2 L494.0,398.2 L495.0,398.2 L495.9,398.2 L496.9,398.2 L497.9,398.1 L498.8,398.0 L499.8,397.8 L500.8,397.5 L501.7,397.1 L502.7,396.6 L503.7,396.1 L504.6,395.4 L505.6,394.6 L506.6,393.5 L507.5,392.2 L508.5,390.7 L509.4,389.0 L510.4,387.1 L511.4,384.8 L512.3,382.4 L513.3,379.7 L514.3,376.5 L515.2,373.2 L516.2,370.1 L517.2,367.5 L518.1,365.3 L519.1,363.6 L520.0,362.8 L521.0,363.1 L522.0,364.1 L522.9,365.5 L523.9,367.3 L524.9,369.5 L525.8,372.0 L526.8,374.6 L527.8,377.0 L528.7,379.2 L529.7,381.3 L530.6,383.3 L531.6,385.0 L532.6,386.6 L533.5,387.9 L534.5,389.2 L535.5,390.3 L536.4,391.2 L537.4,391.9 L538.4,392.4 L539.3,392.9 L540.3,393.4 L541.3,393.7 L542.2,394.0 L543.2,394.3 L544.1,394.5 L545.1,394.7 L546.1,394.9 L547.0,395.0 L548.0,395.2 L549.0,395.3 L549.9,395.4 L550.9,395.5 L551.9,395.6 L552.8,395.7 L553.8,395.8 L554.7,395.9 L555.7,396.0 L556.7,396.0 L557.6,396.1 L558.6,396.1 L559.6,396.2 L560.5,396.2 L561.5,396.2 L562.5,396.3 L563.4,396.3 L564.4,396.3 L565.3,396.3 L566.3,396.3 L567.3,396.3 L568.2,396.3 L569.2,396.3 L570.2,396.3 L571.1,396.3 L572.1,396.3 L573.1,396.3 L574.0,396.3 L575.0,396.3 L576.0,396.3 L576.9,396.3 L577.9,396.3 L578.8,396.3 L579.8,396.3 L580.8,396.3 L581.7,396.3 L582.7,396.3 L583.7,396.3 L584.6,396.3 L585.6,396.3 L586.6,396.3 L587.5,396.3 L588.5,396.4 L589.4,396.4 L590.4,396.4 L591.4,396.4 L592.3,396.4 L593.3,396.4 L594.3,396.4 L595.2,396.4 L596.2,396.4 L597.2,396.4 L598.1,396.4 L599.1,396.4 L600.0,396.4 L601.0,396.4 L602.0,396.4 L602.9,396.4 L603.9,396.4 L604.9,396.4 L605.8,396.4 L606.8,396.4 L607.8,396.4 L608.7,396.4 L609.7,396.4 L610.7,396.4 L611.6,396.4 L612.6,396.4 L613.5,396.3 L614.5,396.3 L615.5,396.3 L616.4,396.3 L617.4,396.3 L618.4,396.3 L619.3,396.3 L620.3,396.3 L621.3,396.3 L622.2,396.2 L623.2,396.2 L624.1,396.2 L625.1,396.1 L626.1,396.1 L627.0,396.0 L628.0,396.0 L629.0,395.9 L629.9,395.8 L630.9,395.6 L631.9,395.2 L632.8,394.8 L633.8,394.4 L634.8,393.9 L635.7,393.5 L636.7,393.1 L637.6,392.8 L638.6,392.4 L639.6,392.1 L640.5,391.8 L641.5,391.6 L642.5,391.3 L643.4,391.1 L644.4,390.9 L645.4,390.8 L646.3,390.8 L647.3,390.9 L648.2,391.2 L649.2,391.6 L650.2,392.0 L651.1,392.4 L652.1,392.9 L653.1,393.4 L654.0,393.9 L655.0,394.5 L656.0,395.0 L656.9,395.5 L657.9,396.0 L658.8,396.6 L659.8,397.0 L660.8,397.3 L661.7,397.6 L662.7,397.8 L663.7,398.0 L664.6,398.1 L665.6,398.2 L666.6,398.2 L667.5,398.2 L668.5,398.2 L669.5,398.2 L670.4,398.2 L671.4,398.2 L672.3,398.2 L673.3,398.2 L674.3,398.2 L675.2,398.2 L676.2,398.2 L677.2,398.2 L678.1,398.2 L679.1,398.2 L680.1,398.2 L681.0,398.2 L681.5,398.2" fill="none" stroke="#a9cf55" stroke-width="0.7"/>
<line x1="488.70" y1="360.40" x2="488.70" y2="398.20" stroke="#999" stroke-width="0.9"/>
<line x1="488.30" y1="398.20" x2="682.00" y2="398.20" stroke="#aaa" stroke-width="1.0"/>
<line x1="488.70" y1="398.20" x2="490.20" y2="398.20" stroke="#888" stroke-width="0.5"/>
<text x="487.6" y="399.70" font-size="4.2" font-family="Liberation Serif" fill="#222" stroke="#222" stroke-width="0.18" text-anchor="end" textLength="2.25" lengthAdjust="spacingAndGlyphs">0</text>
<line x1="488.70" y1="383.30" x2="490.20" y2="383.30" stroke="#888" stroke-width="0.5"/>
<text x="487.6" y="384.80" font-size="4.2" font-family="Liberation Serif" fill="#222" stroke="#222" stroke-width="0.18" text-anchor="end" textLength="6.75" lengthAdjust="spacingAndGlyphs">100</text>
<line x1="488.70" y1="368.40" x2="490.20" y2="368.40" stroke="#888" stroke-width="0.5"/>
<text x="487.6" y="369.90" font-size="4.2" font-family="Liberation Serif" fill="#222" stroke="#222" stroke-width="0.18" text-anchor="end" textLength="6.75" lengthAdjust="spacingAndGlyphs">200</text>
<line x1="516.60" y1="396.70" x2="516.60" y2="398.20" stroke="#888" stroke-width="0.5"/>
<text x="516.60" y="403.10" font-size="4.2" font-family="Liberation Serif" fill="#222" stroke="#222" stroke-width="0.18" text-anchor="middle" textLength="6.40" lengthAdjust="spacingAndGlyphs">0.0</text>
<line x1="543.76" y1="396.70" x2="543.76" y2="398.20" stroke="#888" stroke-width="0.5"/>
<text x="543.76" y="403.10" font-size="4.2" font-family="Liberation Serif" fill="#222" stroke="#222" stroke-width="0.18" text-anchor="middle" textLength="6.40" lengthAdjust="spacingAndGlyphs">0.2</text>
<line x1="570.92" y1="396.70" x2="570.92" y2="398.20" stroke="#888" stroke-width="0.5"/>
<text x="570.92" y="403.10" font-size="4.2" font-family="Liberation Serif" fill="#222" stroke="#222" stroke-width="0.18" text-anchor="middle" textLength="6.40" lengthAdjust="spacingAndGlyphs">0.4</text>
<line x1="598.08" y1="396.70" x2="598.08" y2="398.20" stroke="#888" stroke-width="0.5"/>
<text x="598.08" y="403.10" font-size="4.2" font-family="Liberation Serif" fill="#222" stroke="#222" stroke-width="0.18" text-anchor="middle" textLength="6.40" lengthAdjust="spacingAndGlyphs">0.6</text>
<line x1="625.24" y1="396.70" x2="625.24" y2="398.20" stroke="#888" stroke-width="0.5"/>
<text x="625.24" y="403.10" font-size="4.2" font-family="Liberation Serif" fill="#222" stroke="#222" stroke-width="0.18" text-anchor="middle" textLength="6.40" lengthAdjust="spacingAndGlyphs">0.8</text>
<line x1="652.40" y1="396.70" x2="652.40" y2="398.20" stroke="#888" stroke-width="0.5"/>
<text x="652.40" y="403.10" font-size="4.2" font-family="Liberation Serif" fill="#222" stroke="#222" stroke-width="0.18" text-anchor="middle" textLength="6.40" lengthAdjust="spacingAndGlyphs">1.0</text>
<line x1="679.56" y1="396.70" x2="679.56" y2="398.20" stroke="#888" stroke-width="0.5"/>
<text x="679.56" y="403.10" font-size="4.2" font-family="Liberation Serif" fill="#222" stroke="#222" stroke-width="0.18" text-anchor="middle" textLength="6.40" lengthAdjust="spacingAndGlyphs">1.2</text>
<text transform="translate(478.2,379.30) rotate(-90)" font-size="4.5" font-family="Liberation Sans" fill="#222" stroke="#222" stroke-width="0.12" text-anchor="middle">Count</text>
<text x="586.00" y="411.80" font-size="7.9" font-weight="bold" font-family="Liberation Sans" fill="#111" text-anchor="middle" textLength="48.00" lengthAdjust="spacingAndGlyphs" stroke="#111" stroke-width="0.2">1 Month Post-PCI</text>
</svg>
</body></html>
